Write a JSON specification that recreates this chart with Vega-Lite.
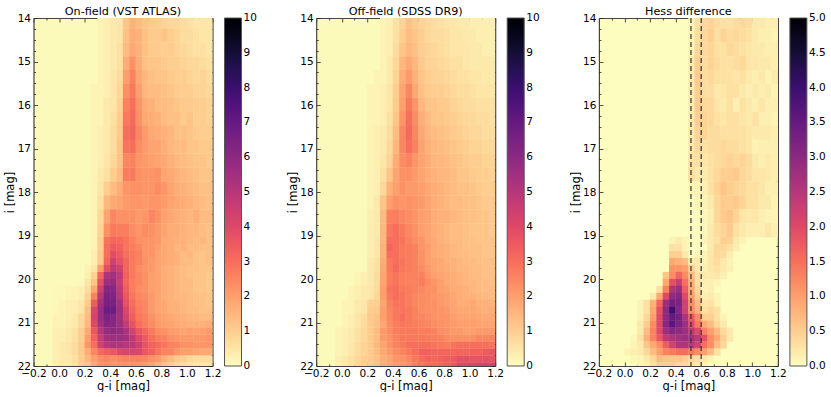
{"$schema":"https://vega.github.io/schema/vega-lite/v6.json","padding":{"left":4.5,"top":5,"right":0,"bottom":0},"background":"white","config":{"font":"DejaVu Sans","view":{"stroke":null},"title":{"fontSize":11.2,"fontWeight":"normal","offset":-4,"color":"#000"},"axis":{"grid":false,"domain":true,"domainColor":"#444","domainWidth":1.2,"zindex":1,"labelOverlap":false,"labelFlush":false,"labelBound":false,"labelFontSize":10.5,"titleFontSize":11.5,"titleFontWeight":"normal","tickColor":"#222","tickWidth":0.8,"labelColor":"#000"},"legend":{"gradientLength":348,"gradientThickness":17,"gradientStrokeColor":"#555","gradientStrokeWidth":1,"labelFontSize":10.5,"labelColor":"#000","title":null,"offset":11,"labelOffset":5}},"datasets":{"frame":[{"x":0,"y":14}],
"a1":[
{"x":0.3,"y":13.92,"v":0.2},{"x":0.35,"y":13.92,"v":0.3},{"x":0.4,"y":13.92,"v":0.4},{"x":0.45,"y":13.92,"v":0.5},{"x":0.5,"y":13.92,"v":1.2},{"x":0.55,"y":13.92,"v":1.6},{"x":0.6,"y":13.92,"v":1.4},{"x":0.65,"y":13.92,"v":1.2},{"x":0.7,"y":13.92,"v":1.1},{"x":0.75,"y":13.92,"v":1},{"x":0.8,"y":13.92,"v":0.9},{"x":0.85,"y":13.92,"v":0.8},{"x":0.9,"y":13.92,"v":0.8},{"x":0.95,"y":13.92,"v":0.7},{"x":1,"y":13.92,"v":0.6},{"x":1.05,"y":13.92,"v":0.5},{"x":1.1,"y":13.92,"v":0.5},{"x":1.15,"y":13.92,"v":0.5},
{"x":0.3,"y":14.24,"v":0.2},{"x":0.35,"y":14.24,"v":0.3},{"x":0.4,"y":14.24,"v":0.4},{"x":0.45,"y":14.24,"v":0.5},{"x":0.5,"y":14.24,"v":1.3},{"x":0.55,"y":14.24,"v":1.7},{"x":0.6,"y":14.24,"v":1.6},{"x":0.65,"y":14.24,"v":1.3},{"x":0.7,"y":14.24,"v":1.1},{"x":0.75,"y":14.24,"v":1.1},{"x":0.8,"y":14.24,"v":1.2},{"x":0.85,"y":14.24,"v":1},{"x":0.9,"y":14.24,"v":0.9},{"x":0.95,"y":14.24,"v":0.7},{"x":1,"y":14.24,"v":0.7},{"x":1.05,"y":14.24,"v":0.6},{"x":1.1,"y":14.24,"v":0.5},{"x":1.15,"y":14.24,"v":0.5},
{"x":0.3,"y":14.56,"v":0.2},{"x":0.35,"y":14.56,"v":0.3},{"x":0.4,"y":14.56,"v":0.4},{"x":0.45,"y":14.56,"v":0.6},{"x":0.5,"y":14.56,"v":1.4},{"x":0.55,"y":14.56,"v":1.8},{"x":0.6,"y":14.56,"v":1.6},{"x":0.65,"y":14.56,"v":1.3},{"x":0.7,"y":14.56,"v":1.1},{"x":0.75,"y":14.56,"v":1.1},{"x":0.8,"y":14.56,"v":1},{"x":0.85,"y":14.56,"v":1.1},{"x":0.9,"y":14.56,"v":0.9},{"x":0.95,"y":14.56,"v":0.8},{"x":1,"y":14.56,"v":0.7},{"x":1.05,"y":14.56,"v":0.6},{"x":1.1,"y":14.56,"v":0.6},{"x":1.15,"y":14.56,"v":0.5},
{"x":0.3,"y":14.88,"v":0.2},{"x":0.35,"y":14.88,"v":0.3},{"x":0.4,"y":14.88,"v":0.4},{"x":0.45,"y":14.88,"v":0.6},{"x":0.5,"y":14.88,"v":1.7},{"x":0.55,"y":14.88,"v":2.3},{"x":0.6,"y":14.88,"v":1.7},{"x":0.65,"y":14.88,"v":1.3},{"x":0.7,"y":14.88,"v":1.2},{"x":0.75,"y":14.88,"v":1.2},{"x":0.8,"y":14.88,"v":1.1},{"x":0.85,"y":14.88,"v":1},{"x":0.9,"y":14.88,"v":1},{"x":0.95,"y":14.88,"v":0.9},{"x":1,"y":14.88,"v":0.8},{"x":1.05,"y":14.88,"v":0.8},{"x":1.1,"y":14.88,"v":0.7},{"x":1.15,"y":14.88,"v":0.6},
{"x":0.3,"y":15.2,"v":0.2},{"x":0.35,"y":15.2,"v":0.3},{"x":0.4,"y":15.2,"v":0.5},{"x":0.45,"y":15.2,"v":0.7},{"x":0.5,"y":15.2,"v":2},{"x":0.55,"y":15.2,"v":2.6},{"x":0.6,"y":15.2,"v":1.8},{"x":0.65,"y":15.2,"v":1.5},{"x":0.7,"y":15.2,"v":1.3},{"x":0.75,"y":15.2,"v":1.2},{"x":0.8,"y":15.2,"v":1.2},{"x":0.85,"y":15.2,"v":1.1},{"x":0.9,"y":15.2,"v":1},{"x":0.95,"y":15.2,"v":1},{"x":1,"y":15.2,"v":0.9},{"x":1.05,"y":15.2,"v":0.8},{"x":1.1,"y":15.2,"v":0.9},{"x":1.15,"y":15.2,"v":0.7},
{"x":0.25,"y":15.52,"v":0.2},{"x":0.3,"y":15.52,"v":0.2},{"x":0.35,"y":15.52,"v":0.3},{"x":0.4,"y":15.52,"v":0.5},{"x":0.45,"y":15.52,"v":0.8},{"x":0.5,"y":15.52,"v":2.3},{"x":0.55,"y":15.52,"v":2.8},{"x":0.6,"y":15.52,"v":2},{"x":0.65,"y":15.52,"v":1.5},{"x":0.7,"y":15.52,"v":1.4},{"x":0.75,"y":15.52,"v":1.4},{"x":0.8,"y":15.52,"v":1.3},{"x":0.85,"y":15.52,"v":1.2},{"x":0.9,"y":15.52,"v":1.1},{"x":0.95,"y":15.52,"v":1},{"x":1,"y":15.52,"v":1},{"x":1.05,"y":15.52,"v":0.9},{"x":1.1,"y":15.52,"v":0.9},{"x":1.15,"y":15.52,"v":0.8},
{"x":0.25,"y":15.84,"v":0.2},{"x":0.3,"y":15.84,"v":0.2},{"x":0.35,"y":15.84,"v":0.4},{"x":0.4,"y":15.84,"v":0.5},{"x":0.45,"y":15.84,"v":0.9},{"x":0.5,"y":15.84,"v":2.6},{"x":0.55,"y":15.84,"v":3},{"x":0.6,"y":15.84,"v":2.2},{"x":0.65,"y":15.84,"v":1.7},{"x":0.7,"y":15.84,"v":1.6},{"x":0.75,"y":15.84,"v":1.4},{"x":0.8,"y":15.84,"v":1.4},{"x":0.85,"y":15.84,"v":1.3},{"x":0.9,"y":15.84,"v":1.2},{"x":0.95,"y":15.84,"v":1.1},{"x":1,"y":15.84,"v":1.1},{"x":1.05,"y":15.84,"v":1},{"x":1.1,"y":15.84,"v":1},{"x":1.15,"y":15.84,"v":0.9},
{"x":0.25,"y":16.16,"v":0.2},{"x":0.3,"y":16.16,"v":0.2},{"x":0.35,"y":16.16,"v":0.4},{"x":0.4,"y":16.16,"v":0.6},{"x":0.45,"y":16.16,"v":1},{"x":0.5,"y":16.16,"v":2.8},{"x":0.55,"y":16.16,"v":3.1},{"x":0.6,"y":16.16,"v":2.3},{"x":0.65,"y":16.16,"v":1.8},{"x":0.7,"y":16.16,"v":1.7},{"x":0.75,"y":16.16,"v":1.6},{"x":0.8,"y":16.16,"v":1.4},{"x":0.85,"y":16.16,"v":1.3},{"x":0.9,"y":16.16,"v":1.3},{"x":0.95,"y":16.16,"v":1.1},{"x":1,"y":16.16,"v":1.2},{"x":1.05,"y":16.16,"v":1},{"x":1.1,"y":16.16,"v":1},{"x":1.15,"y":16.16,"v":0.9},
{"x":0.25,"y":16.48,"v":0.2},{"x":0.3,"y":16.48,"v":0.3},{"x":0.35,"y":16.48,"v":0.4},{"x":0.4,"y":16.48,"v":0.7},{"x":0.45,"y":16.48,"v":1.1},{"x":0.5,"y":16.48,"v":3},{"x":0.55,"y":16.48,"v":3.2},{"x":0.6,"y":16.48,"v":2.5},{"x":0.65,"y":16.48,"v":2.1},{"x":0.7,"y":16.48,"v":1.8},{"x":0.75,"y":16.48,"v":1.7},{"x":0.8,"y":16.48,"v":1.6},{"x":0.85,"y":16.48,"v":1.5},{"x":0.9,"y":16.48,"v":1.3},{"x":0.95,"y":16.48,"v":1.3},{"x":1,"y":16.48,"v":1.2},{"x":1.05,"y":16.48,"v":1.1},{"x":1.1,"y":16.48,"v":1},{"x":1.15,"y":16.48,"v":1},
{"x":0.25,"y":16.8,"v":0.2},{"x":0.3,"y":16.8,"v":0.3},{"x":0.35,"y":16.8,"v":0.4},{"x":0.4,"y":16.8,"v":0.7},{"x":0.45,"y":16.8,"v":1.2},{"x":0.5,"y":16.8,"v":2.9},{"x":0.55,"y":16.8,"v":3},{"x":0.6,"y":16.8,"v":2.4},{"x":0.65,"y":16.8,"v":2.1},{"x":0.7,"y":16.8,"v":1.9},{"x":0.75,"y":16.8,"v":1.9},{"x":0.8,"y":16.8,"v":1.7},{"x":0.85,"y":16.8,"v":1.5},{"x":0.9,"y":16.8,"v":1.4},{"x":0.95,"y":16.8,"v":1.4},{"x":1,"y":16.8,"v":1.2},{"x":1.05,"y":16.8,"v":1.2},{"x":1.1,"y":16.8,"v":1.1},{"x":1.15,"y":16.8,"v":1.1},
{"x":0.25,"y":17.12,"v":0.2},{"x":0.3,"y":17.12,"v":0.3},{"x":0.35,"y":17.12,"v":0.5},{"x":0.4,"y":17.12,"v":0.8},{"x":0.45,"y":17.12,"v":1.2},{"x":0.5,"y":17.12,"v":2.5},{"x":0.55,"y":17.12,"v":2.6},{"x":0.6,"y":17.12,"v":2.2},{"x":0.65,"y":17.12,"v":2.1},{"x":0.7,"y":17.12,"v":2},{"x":0.75,"y":17.12,"v":1.9},{"x":0.8,"y":17.12,"v":1.8},{"x":0.85,"y":17.12,"v":1.6},{"x":0.9,"y":17.12,"v":1.5},{"x":0.95,"y":17.12,"v":1.4},{"x":1,"y":17.12,"v":1.3},{"x":1.05,"y":17.12,"v":1.2},{"x":1.1,"y":17.12,"v":1.2},{"x":1.15,"y":17.12,"v":1.1},
{"x":0.25,"y":17.44,"v":0.2},{"x":0.3,"y":17.44,"v":0.4},{"x":0.35,"y":17.44,"v":0.6},{"x":0.4,"y":17.44,"v":1},{"x":0.45,"y":17.44,"v":1.4},{"x":0.5,"y":17.44,"v":2.7},{"x":0.55,"y":17.44,"v":2.8},{"x":0.6,"y":17.44,"v":2.3},{"x":0.65,"y":17.44,"v":2.2},{"x":0.7,"y":17.44,"v":2.2},{"x":0.75,"y":17.44,"v":2.3},{"x":0.8,"y":17.44,"v":1.9},{"x":0.85,"y":17.44,"v":1.8},{"x":0.9,"y":17.44,"v":1.6},{"x":0.95,"y":17.44,"v":1.5},{"x":1,"y":17.44,"v":1.4},{"x":1.05,"y":17.44,"v":1.3},{"x":1.1,"y":17.44,"v":1.2},{"x":1.15,"y":17.44,"v":1.2},
{"x":0.25,"y":17.76,"v":0.2},{"x":0.3,"y":17.76,"v":0.5},{"x":0.35,"y":17.76,"v":1},{"x":0.4,"y":17.76,"v":1.4},{"x":0.45,"y":17.76,"v":1.7},{"x":0.5,"y":17.76,"v":2.2},{"x":0.55,"y":17.76,"v":2.3},{"x":0.6,"y":17.76,"v":2.3},{"x":0.65,"y":17.76,"v":2.2},{"x":0.7,"y":17.76,"v":2.2},{"x":0.75,"y":17.76,"v":2.4},{"x":0.8,"y":17.76,"v":2.2},{"x":0.85,"y":17.76,"v":1.9},{"x":0.9,"y":17.76,"v":1.7},{"x":0.95,"y":17.76,"v":1.6},{"x":1,"y":17.76,"v":1.5},{"x":1.05,"y":17.76,"v":1.4},{"x":1.1,"y":17.76,"v":1.3},{"x":1.15,"y":17.76,"v":1.3},
{"x":0.25,"y":18.08,"v":0.2},{"x":0.3,"y":18.08,"v":0.6},{"x":0.35,"y":18.08,"v":1.5},{"x":0.4,"y":18.08,"v":1.8},{"x":0.45,"y":18.08,"v":1.9},{"x":0.5,"y":18.08,"v":2.1},{"x":0.55,"y":18.08,"v":2.2},{"x":0.6,"y":18.08,"v":2.2},{"x":0.65,"y":18.08,"v":2.1},{"x":0.7,"y":18.08,"v":2.2},{"x":0.75,"y":18.08,"v":2.2},{"x":0.8,"y":18.08,"v":2.1},{"x":0.85,"y":18.08,"v":1.9},{"x":0.9,"y":18.08,"v":1.8},{"x":0.95,"y":18.08,"v":1.7},{"x":1,"y":18.08,"v":1.6},{"x":1.05,"y":18.08,"v":1.5},{"x":1.1,"y":18.08,"v":1.4},{"x":1.15,"y":18.08,"v":1.3},
{"x":0.25,"y":18.4,"v":0.2},{"x":0.3,"y":18.4,"v":0.8},{"x":0.35,"y":18.4,"v":1.9},{"x":0.4,"y":18.4,"v":2.5},{"x":0.45,"y":18.4,"v":2.3},{"x":0.5,"y":18.4,"v":2.3},{"x":0.55,"y":18.4,"v":2.3},{"x":0.6,"y":18.4,"v":2.1},{"x":0.65,"y":18.4,"v":2.2},{"x":0.7,"y":18.4,"v":2.5},{"x":0.75,"y":18.4,"v":2.3},{"x":0.8,"y":18.4,"v":2},{"x":0.85,"y":18.4,"v":1.8},{"x":0.9,"y":18.4,"v":1.7},{"x":0.95,"y":18.4,"v":1.6},{"x":1,"y":18.4,"v":1.5},{"x":1.05,"y":18.4,"v":1.7},{"x":1.1,"y":18.4,"v":1.4},{"x":1.15,"y":18.4,"v":1.4},
{"x":0.25,"y":18.72,"v":0.2},{"x":0.3,"y":18.72,"v":0.9},{"x":0.35,"y":18.72,"v":2.3},{"x":0.4,"y":18.72,"v":2.8},{"x":0.45,"y":18.72,"v":2.7},{"x":0.5,"y":18.72,"v":2.7},{"x":0.55,"y":18.72,"v":2.4},{"x":0.6,"y":18.72,"v":2.2},{"x":0.65,"y":18.72,"v":2.4},{"x":0.7,"y":18.72,"v":2.3},{"x":0.75,"y":18.72,"v":2.1},{"x":0.8,"y":18.72,"v":1.9},{"x":0.85,"y":18.72,"v":1.7},{"x":0.9,"y":18.72,"v":1.7},{"x":0.95,"y":18.72,"v":1.6},{"x":1,"y":18.72,"v":1.5},{"x":1.05,"y":18.72,"v":1.5},{"x":1.1,"y":18.72,"v":1.4},{"x":1.15,"y":18.72,"v":1.3},
{"x":-0.05,"y":20.16,"v":0.1},{"x":0,"y":20.16,"v":0.1},{"x":0.05,"y":20.16,"v":0.2},{"x":0.1,"y":20.16,"v":0.2},{"x":0.15,"y":20.16,"v":0.3},
{"x":-0.05,"y":20.48,"v":0.1},{"x":0,"y":20.48,"v":0.2},{"x":0.05,"y":20.48,"v":0.3},{"x":0.1,"y":20.48,"v":0.3},{"x":0.15,"y":20.48,"v":0.5},
{"x":-0.05,"y":20.8,"v":0.2},{"x":0,"y":20.8,"v":0.2},{"x":0.05,"y":20.8,"v":0.3},{"x":0.1,"y":20.8,"v":0.4},{"x":0.15,"y":20.8,"v":0.8},
{"x":-0.05,"y":21.12,"v":0.3},{"x":0,"y":21.12,"v":0.3},{"x":0.05,"y":21.12,"v":0.4},{"x":0.1,"y":21.12,"v":0.6},{"x":0.15,"y":21.12,"v":1},
{"x":-0.05,"y":21.44,"v":0.3},{"x":0,"y":21.44,"v":0.4},{"x":0.05,"y":21.44,"v":0.5},{"x":0.1,"y":21.44,"v":0.7},{"x":0.15,"y":21.44,"v":1.1},
{"x":-0.05,"y":21.76,"v":0.3},{"x":0,"y":21.76,"v":0.4},{"x":0.05,"y":21.76,"v":0.4},{"x":0.1,"y":21.76,"v":0.6},{"x":0.15,"y":21.76,"v":1}
],
"a2":[
{"x":0.25,"y":19.04,"v":0.2},{"x":0.3,"y":19.04,"v":1},{"x":0.35,"y":19.04,"v":2.9},{"x":0.4,"y":19.04,"v":3.2},{"x":0.45,"y":19.04,"v":3.1},{"x":0.5,"y":19.04,"v":2.9},{"x":0.55,"y":19.04,"v":2.6},{"x":0.6,"y":19.04,"v":2.3},{"x":0.65,"y":19.04,"v":2.2},{"x":0.7,"y":19.04,"v":2.2},{"x":0.75,"y":19.04,"v":2.1},{"x":0.8,"y":19.04,"v":1.8},{"x":0.85,"y":19.04,"v":1.7},{"x":0.9,"y":19.04,"v":1.6},{"x":0.95,"y":19.04,"v":1.6},{"x":1,"y":19.04,"v":1.5},{"x":1.05,"y":19.04,"v":1.4},{"x":1.1,"y":19.04,"v":1.5},{"x":1.15,"y":19.04,"v":1.3},
{"x":0.25,"y":19.2,"v":0.2},{"x":0.3,"y":19.2,"v":1},{"x":0.35,"y":19.2,"v":3},{"x":0.4,"y":19.2,"v":3.5},{"x":0.45,"y":19.2,"v":3.3},{"x":0.5,"y":19.2,"v":2.9},{"x":0.55,"y":19.2,"v":2.7},{"x":0.6,"y":19.2,"v":2.5},{"x":0.65,"y":19.2,"v":2.2},{"x":0.7,"y":19.2,"v":2.2},{"x":0.75,"y":19.2,"v":2},{"x":0.8,"y":19.2,"v":1.8},{"x":0.85,"y":19.2,"v":1.7},{"x":0.9,"y":19.2,"v":1.5},{"x":0.95,"y":19.2,"v":1.6},{"x":1,"y":19.2,"v":1.4},{"x":1.05,"y":19.2,"v":1.4},{"x":1.1,"y":19.2,"v":1.3},{"x":1.15,"y":19.2,"v":1.3},
{"x":0.25,"y":19.36,"v":0.3},{"x":0.3,"y":19.36,"v":1.1},{"x":0.35,"y":19.36,"v":3},{"x":0.4,"y":19.36,"v":3.9},{"x":0.45,"y":19.36,"v":3.5},{"x":0.5,"y":19.36,"v":3},{"x":0.55,"y":19.36,"v":2.8},{"x":0.6,"y":19.36,"v":2.6},{"x":0.65,"y":19.36,"v":2.2},{"x":0.7,"y":19.36,"v":2.2},{"x":0.75,"y":19.36,"v":1.9},{"x":0.8,"y":19.36,"v":1.8},{"x":0.85,"y":19.36,"v":1.7},{"x":0.9,"y":19.36,"v":1.6},{"x":0.95,"y":19.36,"v":1.4},{"x":1,"y":19.36,"v":1.5},{"x":1.05,"y":19.36,"v":1.3},{"x":1.1,"y":19.36,"v":1.2},{"x":1.15,"y":19.36,"v":1.3},
{"x":0.25,"y":19.52,"v":0.3},{"x":0.3,"y":19.52,"v":1.1},{"x":0.35,"y":19.52,"v":3.2},{"x":0.4,"y":19.52,"v":4.4},{"x":0.45,"y":19.52,"v":3.8},{"x":0.5,"y":19.52,"v":3.2},{"x":0.55,"y":19.52,"v":2.8},{"x":0.6,"y":19.52,"v":2.6},{"x":0.65,"y":19.52,"v":2.3},{"x":0.7,"y":19.52,"v":2.1},{"x":0.75,"y":19.52,"v":1.9},{"x":0.8,"y":19.52,"v":1.8},{"x":0.85,"y":19.52,"v":1.7},{"x":0.9,"y":19.52,"v":1.6},{"x":0.95,"y":19.52,"v":1.4},{"x":1,"y":19.52,"v":1.4},{"x":1.05,"y":19.52,"v":1.3},{"x":1.1,"y":19.52,"v":1.2},{"x":1.15,"y":19.52,"v":1.3},
{"x":0.2,"y":19.68,"v":0.2},{"x":0.25,"y":19.68,"v":0.5},{"x":0.3,"y":19.68,"v":2},{"x":0.35,"y":19.68,"v":3.8},{"x":0.4,"y":19.68,"v":4.8},{"x":0.45,"y":19.68,"v":4.4},{"x":0.5,"y":19.68,"v":3.2},{"x":0.55,"y":19.68,"v":2.8},{"x":0.6,"y":19.68,"v":2.4},{"x":0.65,"y":19.68,"v":2.2},{"x":0.7,"y":19.68,"v":2.1},{"x":0.75,"y":19.68,"v":1.9},{"x":0.8,"y":19.68,"v":1.7},{"x":0.85,"y":19.68,"v":1.6},{"x":0.9,"y":19.68,"v":1.5},{"x":0.95,"y":19.68,"v":1.4},{"x":1,"y":19.68,"v":1.3},{"x":1.05,"y":19.68,"v":1.3},{"x":1.1,"y":19.68,"v":1.2},{"x":1.15,"y":19.68,"v":1.2},
{"x":0.2,"y":19.84,"v":0.3},{"x":0.25,"y":19.84,"v":0.9},{"x":0.3,"y":19.84,"v":3.2},{"x":0.35,"y":19.84,"v":5.2},{"x":0.4,"y":19.84,"v":5.5},{"x":0.45,"y":19.84,"v":4.8},{"x":0.5,"y":19.84,"v":3.3},{"x":0.55,"y":19.84,"v":2.8},{"x":0.6,"y":19.84,"v":2.5},{"x":0.65,"y":19.84,"v":2.3},{"x":0.7,"y":19.84,"v":2},{"x":0.75,"y":19.84,"v":1.9},{"x":0.8,"y":19.84,"v":1.7},{"x":0.85,"y":19.84,"v":1.6},{"x":0.9,"y":19.84,"v":1.5},{"x":0.95,"y":19.84,"v":1.4},{"x":1,"y":19.84,"v":1.3},{"x":1.05,"y":19.84,"v":1.2},{"x":1.1,"y":19.84,"v":1.2},{"x":1.15,"y":19.84,"v":1.1},
{"x":0.2,"y":20,"v":0.5},{"x":0.25,"y":20,"v":1.2},{"x":0.3,"y":20,"v":3.8},{"x":0.35,"y":20,"v":5.6},{"x":0.4,"y":20,"v":5.8},{"x":0.45,"y":20,"v":4.6},{"x":0.5,"y":20,"v":3.2},{"x":0.55,"y":20,"v":2.7},{"x":0.6,"y":20,"v":2.5},{"x":0.65,"y":20,"v":2.3},{"x":0.7,"y":20,"v":2},{"x":0.75,"y":20,"v":1.9},{"x":0.8,"y":20,"v":1.7},{"x":0.85,"y":20,"v":1.6},{"x":0.9,"y":20,"v":1.5},{"x":0.95,"y":20,"v":1.4},{"x":1,"y":20,"v":1.4},{"x":1.05,"y":20,"v":1.2},{"x":1.1,"y":20,"v":1.2},{"x":1.15,"y":20,"v":1.1},
{"x":0.2,"y":20.16,"v":0.7},{"x":0.25,"y":20.16,"v":1.8},{"x":0.3,"y":20.16,"v":4.4},{"x":0.35,"y":20.16,"v":6.2},{"x":0.4,"y":20.16,"v":6.2},{"x":0.45,"y":20.16,"v":4.8},{"x":0.5,"y":20.16,"v":3.4},{"x":0.55,"y":20.16,"v":2.7},{"x":0.6,"y":20.16,"v":2.4},{"x":0.65,"y":20.16,"v":2.3},{"x":0.7,"y":20.16,"v":2},{"x":0.75,"y":20.16,"v":1.9},{"x":0.8,"y":20.16,"v":1.7},{"x":0.85,"y":20.16,"v":1.6},{"x":0.9,"y":20.16,"v":1.5},{"x":0.95,"y":20.16,"v":1.4},{"x":1,"y":20.16,"v":1.4},{"x":1.05,"y":20.16,"v":1.2},{"x":1.1,"y":20.16,"v":1.2},{"x":1.15,"y":20.16,"v":1.1},
{"x":0.2,"y":20.32,"v":0.9},{"x":0.25,"y":20.32,"v":2.6},{"x":0.3,"y":20.32,"v":5},{"x":0.35,"y":20.32,"v":6.4},{"x":0.4,"y":20.32,"v":6.3},{"x":0.45,"y":20.32,"v":5},{"x":0.5,"y":20.32,"v":3.6},{"x":0.55,"y":20.32,"v":2.9},{"x":0.6,"y":20.32,"v":2.5},{"x":0.65,"y":20.32,"v":2.4},{"x":0.7,"y":20.32,"v":2.1},{"x":0.75,"y":20.32,"v":1.9},{"x":0.8,"y":20.32,"v":1.7},{"x":0.85,"y":20.32,"v":1.6},{"x":0.9,"y":20.32,"v":1.5},{"x":0.95,"y":20.32,"v":1.5},{"x":1,"y":20.32,"v":1.4},{"x":1.05,"y":20.32,"v":1.3},{"x":1.1,"y":20.32,"v":1.3},{"x":1.15,"y":20.32,"v":1.2},
{"x":0.2,"y":20.48,"v":1.1},{"x":0.25,"y":20.48,"v":3.4},{"x":0.3,"y":20.48,"v":5.4},{"x":0.35,"y":20.48,"v":6.5},{"x":0.4,"y":20.48,"v":6.5},{"x":0.45,"y":20.48,"v":5.4},{"x":0.5,"y":20.48,"v":3.8},{"x":0.55,"y":20.48,"v":3},{"x":0.6,"y":20.48,"v":2.6},{"x":0.65,"y":20.48,"v":2.5},{"x":0.7,"y":20.48,"v":2.1},{"x":0.75,"y":20.48,"v":1.9},{"x":0.8,"y":20.48,"v":1.8},{"x":0.85,"y":20.48,"v":1.6},{"x":0.9,"y":20.48,"v":1.6},{"x":0.95,"y":20.48,"v":1.5},{"x":1,"y":20.48,"v":1.4},{"x":1.05,"y":20.48,"v":1.3},{"x":1.1,"y":20.48,"v":1.3},{"x":1.15,"y":20.48,"v":1.2},
{"x":0.2,"y":20.64,"v":1.3},{"x":0.25,"y":20.64,"v":4.1},{"x":0.3,"y":20.64,"v":5.7},{"x":0.35,"y":20.64,"v":6.8},{"x":0.4,"y":20.64,"v":6.8},{"x":0.45,"y":20.64,"v":5.6},{"x":0.5,"y":20.64,"v":4.1},{"x":0.55,"y":20.64,"v":3.2},{"x":0.6,"y":20.64,"v":2.7},{"x":0.65,"y":20.64,"v":2.5},{"x":0.7,"y":20.64,"v":2.1},{"x":0.75,"y":20.64,"v":1.9},{"x":0.8,"y":20.64,"v":1.8},{"x":0.85,"y":20.64,"v":1.6},{"x":0.9,"y":20.64,"v":1.6},{"x":0.95,"y":20.64,"v":1.5},{"x":1,"y":20.64,"v":1.4},{"x":1.05,"y":20.64,"v":1.4},{"x":1.1,"y":20.64,"v":1.3},{"x":1.15,"y":20.64,"v":1.3},
{"x":0.2,"y":20.8,"v":1.4},{"x":0.25,"y":20.8,"v":4.2},{"x":0.3,"y":20.8,"v":5.7},{"x":0.35,"y":20.8,"v":6.4},{"x":0.4,"y":20.8,"v":6.2},{"x":0.45,"y":20.8,"v":5.5},{"x":0.5,"y":20.8,"v":4.3},{"x":0.55,"y":20.8,"v":3.4},{"x":0.6,"y":20.8,"v":2.8},{"x":0.65,"y":20.8,"v":2.6},{"x":0.7,"y":20.8,"v":2.3},{"x":0.75,"y":20.8,"v":2},{"x":0.8,"y":20.8,"v":1.9},{"x":0.85,"y":20.8,"v":1.8},{"x":0.9,"y":20.8,"v":1.7},{"x":0.95,"y":20.8,"v":1.6},{"x":1,"y":20.8,"v":1.5},{"x":1.05,"y":20.8,"v":1.5},{"x":1.1,"y":20.8,"v":1.4},{"x":1.15,"y":20.8,"v":1.4},
{"x":0.2,"y":20.96,"v":1.5},{"x":0.25,"y":20.96,"v":4},{"x":0.3,"y":20.96,"v":5.5},{"x":0.35,"y":20.96,"v":6.2},{"x":0.4,"y":20.96,"v":6.2},{"x":0.45,"y":20.96,"v":5.6},{"x":0.5,"y":20.96,"v":4.7},{"x":0.55,"y":20.96,"v":3.7},{"x":0.6,"y":20.96,"v":3},{"x":0.65,"y":20.96,"v":2.7},{"x":0.7,"y":20.96,"v":2.4},{"x":0.75,"y":20.96,"v":2.1},{"x":0.8,"y":20.96,"v":2},{"x":0.85,"y":20.96,"v":1.9},{"x":0.9,"y":20.96,"v":1.8},{"x":0.95,"y":20.96,"v":1.7},{"x":1,"y":20.96,"v":1.6},{"x":1.05,"y":20.96,"v":1.6},{"x":1.1,"y":20.96,"v":1.6},{"x":1.15,"y":20.96,"v":1.7},
{"x":0.2,"y":21.12,"v":1.8},{"x":0.25,"y":21.12,"v":3.6},{"x":0.3,"y":21.12,"v":5},{"x":0.35,"y":21.12,"v":5.8},{"x":0.4,"y":21.12,"v":6},{"x":0.45,"y":21.12,"v":5.8},{"x":0.5,"y":21.12,"v":5.3},{"x":0.55,"y":21.12,"v":4.4},{"x":0.6,"y":21.12,"v":3.6},{"x":0.65,"y":21.12,"v":3.2},{"x":0.7,"y":21.12,"v":2.8},{"x":0.75,"y":21.12,"v":2.4},{"x":0.8,"y":21.12,"v":2.3},{"x":0.85,"y":21.12,"v":2.1},{"x":0.9,"y":21.12,"v":2},{"x":0.95,"y":21.12,"v":1.9},{"x":1,"y":21.12,"v":2},{"x":1.05,"y":21.12,"v":1.9},{"x":1.1,"y":21.12,"v":2},{"x":1.15,"y":21.12,"v":2.1},
{"x":0.2,"y":21.28,"v":2},{"x":0.25,"y":21.28,"v":3.3},{"x":0.3,"y":21.28,"v":4.6},{"x":0.35,"y":21.28,"v":5.4},{"x":0.4,"y":21.28,"v":5.6},{"x":0.45,"y":21.28,"v":5.6},{"x":0.5,"y":21.28,"v":5.4},{"x":0.55,"y":21.28,"v":4.8},{"x":0.6,"y":21.28,"v":4},{"x":0.65,"y":21.28,"v":3.5},{"x":0.7,"y":21.28,"v":3},{"x":0.75,"y":21.28,"v":2.7},{"x":0.8,"y":21.28,"v":2.6},{"x":0.85,"y":21.28,"v":2.3},{"x":0.9,"y":21.28,"v":2.2},{"x":0.95,"y":21.28,"v":2.1},{"x":1,"y":21.28,"v":2.1},{"x":1.05,"y":21.28,"v":2.1},{"x":1.1,"y":21.28,"v":2.1},{"x":1.15,"y":21.28,"v":2.2},
{"x":0.2,"y":21.44,"v":2.2},{"x":0.25,"y":21.44,"v":3},{"x":0.3,"y":21.44,"v":4.4},{"x":0.35,"y":21.44,"v":5},{"x":0.4,"y":21.44,"v":5.2},{"x":0.45,"y":21.44,"v":5.2},{"x":0.5,"y":21.44,"v":5},{"x":0.55,"y":21.44,"v":4.9},{"x":0.6,"y":21.44,"v":4.4},{"x":0.65,"y":21.44,"v":3.7},{"x":0.7,"y":21.44,"v":3.3},{"x":0.75,"y":21.44,"v":3.1},{"x":0.8,"y":21.44,"v":2.9},{"x":0.85,"y":21.44,"v":2.6},{"x":0.9,"y":21.44,"v":2.5},{"x":0.95,"y":21.44,"v":2.3},{"x":1,"y":21.44,"v":2.3},{"x":1.05,"y":21.44,"v":2.2},{"x":1.1,"y":21.44,"v":2.2},{"x":1.15,"y":21.44,"v":2.2},
{"x":0.2,"y":21.6,"v":1.7},{"x":0.25,"y":21.6,"v":2.5},{"x":0.3,"y":21.6,"v":3.1},{"x":0.35,"y":21.6,"v":3.4},{"x":0.4,"y":21.6,"v":3.6},{"x":0.45,"y":21.6,"v":4},{"x":0.5,"y":21.6,"v":4.2},{"x":0.55,"y":21.6,"v":4.2},{"x":0.6,"y":21.6,"v":4.1},{"x":0.65,"y":21.6,"v":3.6},{"x":0.7,"y":21.6,"v":3.3},{"x":0.75,"y":21.6,"v":2.9},{"x":0.8,"y":21.6,"v":2.6},{"x":0.85,"y":21.6,"v":2.5},{"x":0.9,"y":21.6,"v":2.2},{"x":0.95,"y":21.6,"v":2},{"x":1,"y":21.6,"v":2},{"x":1.05,"y":21.6,"v":1.9},{"x":1.1,"y":21.6,"v":1.8},{"x":1.15,"y":21.6,"v":1.8},
{"x":0.2,"y":21.76,"v":1.5},{"x":0.25,"y":21.76,"v":2},{"x":0.3,"y":21.76,"v":2.4},{"x":0.35,"y":21.76,"v":2.5},{"x":0.4,"y":21.76,"v":2.4},{"x":0.45,"y":21.76,"v":2.5},{"x":0.5,"y":21.76,"v":2.6},{"x":0.55,"y":21.76,"v":2.6},{"x":0.6,"y":21.76,"v":2.6},{"x":0.65,"y":21.76,"v":2.5},{"x":0.7,"y":21.76,"v":2.3},{"x":0.75,"y":21.76,"v":2.1},{"x":0.8,"y":21.76,"v":1.7},{"x":0.85,"y":21.76,"v":1.4},{"x":0.9,"y":21.76,"v":1.1},{"x":0.95,"y":21.76,"v":1},{"x":1,"y":21.76,"v":0.8},{"x":1.05,"y":21.76,"v":0.7},{"x":1.1,"y":21.76,"v":0.7},{"x":1.15,"y":21.76,"v":0.7},
{"x":0.2,"y":21.92,"v":1.2},{"x":0.25,"y":21.92,"v":1.8},{"x":0.3,"y":21.92,"v":2.3},{"x":0.35,"y":21.92,"v":2.4},{"x":0.4,"y":21.92,"v":2.2},{"x":0.45,"y":21.92,"v":2.3},{"x":0.5,"y":21.92,"v":2.3},{"x":0.55,"y":21.92,"v":2.3},{"x":0.6,"y":21.92,"v":2.2},{"x":0.65,"y":21.92,"v":2.1},{"x":0.7,"y":21.92,"v":1.9},{"x":0.75,"y":21.92,"v":1.6},{"x":0.8,"y":21.92,"v":1.2},{"x":0.85,"y":21.92,"v":1},{"x":0.9,"y":21.92,"v":0.8},{"x":0.95,"y":21.92,"v":0.7},{"x":1,"y":21.92,"v":0.6},{"x":1.05,"y":21.92,"v":0.5},{"x":1.1,"y":21.92,"v":0.5},{"x":1.15,"y":21.92,"v":0.5}
],
"b1":[
{"x":0.3,"y":13.92,"v":0.2},{"x":0.35,"y":13.92,"v":0.3},{"x":0.4,"y":13.92,"v":0.6},{"x":0.45,"y":13.92,"v":0.9},{"x":0.5,"y":13.92,"v":1.3},{"x":0.55,"y":13.92,"v":1.1},{"x":0.6,"y":13.92,"v":0.9},{"x":0.65,"y":13.92,"v":0.8},{"x":0.7,"y":13.92,"v":0.7},{"x":0.75,"y":13.92,"v":0.6},{"x":0.8,"y":13.92,"v":0.5},{"x":0.85,"y":13.92,"v":0.5},{"x":0.9,"y":13.92,"v":0.4},{"x":0.95,"y":13.92,"v":0.4},{"x":1,"y":13.92,"v":0.3},{"x":1.05,"y":13.92,"v":0.3},{"x":1.1,"y":13.92,"v":0.3},{"x":1.15,"y":13.92,"v":0.3},
{"x":0.3,"y":14.24,"v":0.2},{"x":0.35,"y":14.24,"v":0.3},{"x":0.4,"y":14.24,"v":0.6},{"x":0.45,"y":14.24,"v":1},{"x":0.5,"y":14.24,"v":1.4},{"x":0.55,"y":14.24,"v":1.2},{"x":0.6,"y":14.24,"v":1},{"x":0.65,"y":14.24,"v":0.8},{"x":0.7,"y":14.24,"v":0.7},{"x":0.75,"y":14.24,"v":0.7},{"x":0.8,"y":14.24,"v":0.6},{"x":0.85,"y":14.24,"v":0.5},{"x":0.9,"y":14.24,"v":0.5},{"x":0.95,"y":14.24,"v":0.4},{"x":1,"y":14.24,"v":0.4},{"x":1.05,"y":14.24,"v":0.3},{"x":1.1,"y":14.24,"v":0.3},{"x":1.15,"y":14.24,"v":0.3},
{"x":0.3,"y":14.56,"v":0.2},{"x":0.35,"y":14.56,"v":0.3},{"x":0.4,"y":14.56,"v":0.7},{"x":0.45,"y":14.56,"v":1.2},{"x":0.5,"y":14.56,"v":1.5},{"x":0.55,"y":14.56,"v":1.3},{"x":0.6,"y":14.56,"v":1},{"x":0.65,"y":14.56,"v":0.9},{"x":0.7,"y":14.56,"v":0.8},{"x":0.75,"y":14.56,"v":0.7},{"x":0.8,"y":14.56,"v":0.6},{"x":0.85,"y":14.56,"v":0.5},{"x":0.9,"y":14.56,"v":0.5},{"x":0.95,"y":14.56,"v":0.5},{"x":1,"y":14.56,"v":0.4},{"x":1.05,"y":14.56,"v":0.4},{"x":1.1,"y":14.56,"v":0.3},{"x":1.15,"y":14.56,"v":0.3},
{"x":0.3,"y":14.88,"v":0.2},{"x":0.35,"y":14.88,"v":0.4},{"x":0.4,"y":14.88,"v":0.8},{"x":0.45,"y":14.88,"v":1.5},{"x":0.5,"y":14.88,"v":1.8},{"x":0.55,"y":14.88,"v":1.5},{"x":0.6,"y":14.88,"v":1.1},{"x":0.65,"y":14.88,"v":0.9},{"x":0.7,"y":14.88,"v":0.9},{"x":0.75,"y":14.88,"v":0.8},{"x":0.8,"y":14.88,"v":0.7},{"x":0.85,"y":14.88,"v":0.6},{"x":0.9,"y":14.88,"v":0.6},{"x":0.95,"y":14.88,"v":0.5},{"x":1,"y":14.88,"v":0.4},{"x":1.05,"y":14.88,"v":0.4},{"x":1.1,"y":14.88,"v":0.4},{"x":1.15,"y":14.88,"v":0.4},
{"x":0.25,"y":15.2,"v":0.2},{"x":0.3,"y":15.2,"v":0.2},{"x":0.35,"y":15.2,"v":0.4},{"x":0.4,"y":15.2,"v":0.9},{"x":0.45,"y":15.2,"v":1.7},{"x":0.5,"y":15.2,"v":2.1},{"x":0.55,"y":15.2,"v":1.6},{"x":0.6,"y":15.2,"v":1.2},{"x":0.65,"y":15.2,"v":1},{"x":0.7,"y":15.2,"v":0.9},{"x":0.75,"y":15.2,"v":0.9},{"x":0.8,"y":15.2,"v":0.8},{"x":0.85,"y":15.2,"v":0.7},{"x":0.9,"y":15.2,"v":0.6},{"x":0.95,"y":15.2,"v":0.6},{"x":1,"y":15.2,"v":0.5},{"x":1.05,"y":15.2,"v":0.5},{"x":1.1,"y":15.2,"v":0.4},{"x":1.15,"y":15.2,"v":0.4},
{"x":0.2,"y":15.52,"v":0.2},{"x":0.25,"y":15.52,"v":0.2},{"x":0.3,"y":15.52,"v":0.3},{"x":0.35,"y":15.52,"v":0.5},{"x":0.4,"y":15.52,"v":1},{"x":0.45,"y":15.52,"v":1.9},{"x":0.5,"y":15.52,"v":2.5},{"x":0.55,"y":15.52,"v":1.8},{"x":0.6,"y":15.52,"v":1.3},{"x":0.65,"y":15.52,"v":1.1},{"x":0.7,"y":15.52,"v":1},{"x":0.75,"y":15.52,"v":1},{"x":0.8,"y":15.52,"v":0.9},{"x":0.85,"y":15.52,"v":0.8},{"x":0.9,"y":15.52,"v":0.7},{"x":0.95,"y":15.52,"v":0.7},{"x":1,"y":15.52,"v":0.6},{"x":1.05,"y":15.52,"v":0.5},{"x":1.1,"y":15.52,"v":0.5},{"x":1.15,"y":15.52,"v":0.5},
{"x":0.2,"y":15.84,"v":0.2},{"x":0.25,"y":15.84,"v":0.2},{"x":0.3,"y":15.84,"v":0.3},{"x":0.35,"y":15.84,"v":0.5},{"x":0.4,"y":15.84,"v":1.1},{"x":0.45,"y":15.84,"v":2},{"x":0.5,"y":15.84,"v":2.8},{"x":0.55,"y":15.84,"v":2.2},{"x":0.6,"y":15.84,"v":1.5},{"x":0.65,"y":15.84,"v":1.2},{"x":0.7,"y":15.84,"v":1.2},{"x":0.75,"y":15.84,"v":1.1},{"x":0.8,"y":15.84,"v":1.1},{"x":0.85,"y":15.84,"v":0.9},{"x":0.9,"y":15.84,"v":0.8},{"x":0.95,"y":15.84,"v":0.7},{"x":1,"y":15.84,"v":0.7},{"x":1.05,"y":15.84,"v":0.6},{"x":1.1,"y":15.84,"v":0.6},{"x":1.15,"y":15.84,"v":0.6},
{"x":0.2,"y":16.16,"v":0.2},{"x":0.25,"y":16.16,"v":0.2},{"x":0.3,"y":16.16,"v":0.3},{"x":0.35,"y":16.16,"v":0.6},{"x":0.4,"y":16.16,"v":1.2},{"x":0.45,"y":16.16,"v":2.2},{"x":0.5,"y":16.16,"v":3},{"x":0.55,"y":16.16,"v":2.4},{"x":0.6,"y":16.16,"v":1.7},{"x":0.65,"y":16.16,"v":1.4},{"x":0.7,"y":16.16,"v":1.2},{"x":0.75,"y":16.16,"v":1.2},{"x":0.8,"y":16.16,"v":1.1},{"x":0.85,"y":16.16,"v":1},{"x":0.9,"y":16.16,"v":0.9},{"x":0.95,"y":16.16,"v":0.8},{"x":1,"y":16.16,"v":0.8},{"x":1.05,"y":16.16,"v":0.7},{"x":1.1,"y":16.16,"v":0.7},{"x":1.15,"y":16.16,"v":0.6},
{"x":0.2,"y":16.48,"v":0.2},{"x":0.25,"y":16.48,"v":0.3},{"x":0.3,"y":16.48,"v":0.4},{"x":0.35,"y":16.48,"v":0.7},{"x":0.4,"y":16.48,"v":1.4},{"x":0.45,"y":16.48,"v":2.5},{"x":0.5,"y":16.48,"v":3.1},{"x":0.55,"y":16.48,"v":2.5},{"x":0.6,"y":16.48,"v":1.8},{"x":0.65,"y":16.48,"v":1.5},{"x":0.7,"y":16.48,"v":1.4},{"x":0.75,"y":16.48,"v":1.3},{"x":0.8,"y":16.48,"v":1.2},{"x":0.85,"y":16.48,"v":1.1},{"x":0.9,"y":16.48,"v":1},{"x":0.95,"y":16.48,"v":0.9},{"x":1,"y":16.48,"v":0.8},{"x":1.05,"y":16.48,"v":0.8},{"x":1.1,"y":16.48,"v":0.7},{"x":1.15,"y":16.48,"v":0.7},
{"x":0.2,"y":16.8,"v":0.2},{"x":0.25,"y":16.8,"v":0.3},{"x":0.3,"y":16.8,"v":0.4},{"x":0.35,"y":16.8,"v":0.8},{"x":0.4,"y":16.8,"v":1.5},{"x":0.45,"y":16.8,"v":2.5},{"x":0.5,"y":16.8,"v":3},{"x":0.55,"y":16.8,"v":2.6},{"x":0.6,"y":16.8,"v":1.9},{"x":0.65,"y":16.8,"v":1.6},{"x":0.7,"y":16.8,"v":1.5},{"x":0.75,"y":16.8,"v":1.4},{"x":0.8,"y":16.8,"v":1.3},{"x":0.85,"y":16.8,"v":1.2},{"x":0.9,"y":16.8,"v":1.1},{"x":0.95,"y":16.8,"v":1},{"x":1,"y":16.8,"v":0.9},{"x":1.05,"y":16.8,"v":0.9},{"x":1.1,"y":16.8,"v":0.8},{"x":1.15,"y":16.8,"v":0.8},
{"x":0.2,"y":17.12,"v":0.2},{"x":0.25,"y":17.12,"v":0.3},{"x":0.3,"y":17.12,"v":0.5},{"x":0.35,"y":17.12,"v":0.9},{"x":0.4,"y":17.12,"v":1.7},{"x":0.45,"y":17.12,"v":2.4},{"x":0.5,"y":17.12,"v":2.6},{"x":0.55,"y":17.12,"v":2.2},{"x":0.6,"y":17.12,"v":1.9},{"x":0.65,"y":17.12,"v":1.7},{"x":0.7,"y":17.12,"v":1.5},{"x":0.75,"y":17.12,"v":1.5},{"x":0.8,"y":17.12,"v":1.4},{"x":0.85,"y":17.12,"v":1.3},{"x":0.9,"y":17.12,"v":1.2},{"x":0.95,"y":17.12,"v":1.1},{"x":1,"y":17.12,"v":1},{"x":1.05,"y":17.12,"v":1},{"x":1.1,"y":17.12,"v":0.9},{"x":1.15,"y":17.12,"v":0.9},
{"x":0.2,"y":17.44,"v":0.2},{"x":0.25,"y":17.44,"v":0.3},{"x":0.3,"y":17.44,"v":0.6},{"x":0.35,"y":17.44,"v":1.2},{"x":0.4,"y":17.44,"v":1.9},{"x":0.45,"y":17.44,"v":2.3},{"x":0.5,"y":17.44,"v":2.3},{"x":0.55,"y":17.44,"v":2.1},{"x":0.6,"y":17.44,"v":1.9},{"x":0.65,"y":17.44,"v":1.7},{"x":0.7,"y":17.44,"v":1.6},{"x":0.75,"y":17.44,"v":1.5},{"x":0.8,"y":17.44,"v":1.5},{"x":0.85,"y":17.44,"v":1.4},{"x":0.9,"y":17.44,"v":1.2},{"x":0.95,"y":17.44,"v":1.2},{"x":1,"y":17.44,"v":1.1},{"x":1.05,"y":17.44,"v":1},{"x":1.1,"y":17.44,"v":1},{"x":1.15,"y":17.44,"v":0.9},
{"x":0.2,"y":17.76,"v":0.2},{"x":0.25,"y":17.76,"v":0.3},{"x":0.3,"y":17.76,"v":0.8},{"x":0.35,"y":17.76,"v":1.6},{"x":0.4,"y":17.76,"v":2},{"x":0.45,"y":17.76,"v":2.3},{"x":0.5,"y":17.76,"v":2.1},{"x":0.55,"y":17.76,"v":2.1},{"x":0.6,"y":17.76,"v":2},{"x":0.65,"y":17.76,"v":1.8},{"x":0.7,"y":17.76,"v":1.7},{"x":0.75,"y":17.76,"v":1.6},{"x":0.8,"y":17.76,"v":1.5},{"x":0.85,"y":17.76,"v":1.4},{"x":0.9,"y":17.76,"v":1.3},{"x":0.95,"y":17.76,"v":1.3},{"x":1,"y":17.76,"v":1.2},{"x":1.05,"y":17.76,"v":1.1},{"x":1.1,"y":17.76,"v":1},{"x":1.15,"y":17.76,"v":1},
{"x":0.2,"y":18.08,"v":0.2},{"x":0.25,"y":18.08,"v":0.4},{"x":0.3,"y":18.08,"v":1.2},{"x":0.35,"y":18.08,"v":2},{"x":0.4,"y":18.08,"v":2.3},{"x":0.45,"y":18.08,"v":2.2},{"x":0.5,"y":18.08,"v":2.3},{"x":0.55,"y":18.08,"v":2.2},{"x":0.6,"y":18.08,"v":2.1},{"x":0.65,"y":18.08,"v":1.9},{"x":0.7,"y":18.08,"v":1.7},{"x":0.75,"y":18.08,"v":1.6},{"x":0.8,"y":18.08,"v":1.5},{"x":0.85,"y":18.08,"v":1.4},{"x":0.9,"y":18.08,"v":1.4},{"x":0.95,"y":18.08,"v":1.3},{"x":1,"y":18.08,"v":1.3},{"x":1.05,"y":18.08,"v":1.2},{"x":1.1,"y":18.08,"v":1.1},{"x":1.15,"y":18.08,"v":1.1},
{"x":0.2,"y":18.4,"v":0.3},{"x":0.25,"y":18.4,"v":0.4},{"x":0.3,"y":18.4,"v":1.4},{"x":0.35,"y":18.4,"v":2.6},{"x":0.4,"y":18.4,"v":2.7},{"x":0.45,"y":18.4,"v":2.5},{"x":0.5,"y":18.4,"v":2.4},{"x":0.55,"y":18.4,"v":2.2},{"x":0.6,"y":18.4,"v":2},{"x":0.65,"y":18.4,"v":1.9},{"x":0.7,"y":18.4,"v":1.7},{"x":0.75,"y":18.4,"v":1.6},{"x":0.8,"y":18.4,"v":1.6},{"x":0.85,"y":18.4,"v":1.5},{"x":0.9,"y":18.4,"v":1.4},{"x":0.95,"y":18.4,"v":1.3},{"x":1,"y":18.4,"v":1.3},{"x":1.05,"y":18.4,"v":1.2},{"x":1.1,"y":18.4,"v":1.2},{"x":1.15,"y":18.4,"v":1.1},
{"x":0.2,"y":18.72,"v":0.3},{"x":0.25,"y":18.72,"v":0.4},{"x":0.3,"y":18.72,"v":1.5},{"x":0.35,"y":18.72,"v":2.8},{"x":0.4,"y":18.72,"v":3},{"x":0.45,"y":18.72,"v":2.8},{"x":0.5,"y":18.72,"v":2.5},{"x":0.55,"y":18.72,"v":2.3},{"x":0.6,"y":18.72,"v":2},{"x":0.65,"y":18.72,"v":1.9},{"x":0.7,"y":18.72,"v":1.7},{"x":0.75,"y":18.72,"v":1.6},{"x":0.8,"y":18.72,"v":1.5},{"x":0.85,"y":18.72,"v":1.4},{"x":0.9,"y":18.72,"v":1.4},{"x":0.95,"y":18.72,"v":1.3},{"x":1,"y":18.72,"v":1.2},{"x":1.05,"y":18.72,"v":1.2},{"x":1.1,"y":18.72,"v":1.2},{"x":1.15,"y":18.72,"v":1.1},
{"x":0.1,"y":19.84,"v":0.2},{"x":0.15,"y":19.84,"v":0.3},
{"x":0.05,"y":20.16,"v":0.2},{"x":0.1,"y":20.16,"v":0.3},{"x":0.15,"y":20.16,"v":0.4},
{"x":0,"y":20.48,"v":0.2},{"x":0.05,"y":20.48,"v":0.2},{"x":0.1,"y":20.48,"v":0.4},{"x":0.15,"y":20.48,"v":0.5},
{"x":0,"y":20.8,"v":0.2},{"x":0.05,"y":20.8,"v":0.3},{"x":0.1,"y":20.8,"v":0.5},{"x":0.15,"y":20.8,"v":0.7},
{"x":-0.05,"y":21.12,"v":0.2},{"x":0,"y":21.12,"v":0.3},{"x":0.05,"y":21.12,"v":0.4},{"x":0.1,"y":21.12,"v":0.6},{"x":0.15,"y":21.12,"v":0.8},
{"x":-0.05,"y":21.44,"v":0.2},{"x":0,"y":21.44,"v":0.3},{"x":0.05,"y":21.44,"v":0.5},{"x":0.1,"y":21.44,"v":0.7},{"x":0.15,"y":21.44,"v":0.9},
{"x":-0.05,"y":21.76,"v":0.3},{"x":0,"y":21.76,"v":0.4},{"x":0.05,"y":21.76,"v":0.6},{"x":0.1,"y":21.76,"v":0.8},{"x":0.15,"y":21.76,"v":1}
],
"b2":[
{"x":0.2,"y":19.04,"v":0.3},{"x":0.25,"y":19.04,"v":0.5},{"x":0.3,"y":19.04,"v":1.5},{"x":0.35,"y":19.04,"v":3},{"x":0.4,"y":19.04,"v":3},{"x":0.45,"y":19.04,"v":2.9},{"x":0.5,"y":19.04,"v":2.6},{"x":0.55,"y":19.04,"v":2.4},{"x":0.6,"y":19.04,"v":2.2},{"x":0.65,"y":19.04,"v":1.9},{"x":0.7,"y":19.04,"v":1.8},{"x":0.75,"y":19.04,"v":1.6},{"x":0.8,"y":19.04,"v":1.5},{"x":0.85,"y":19.04,"v":1.4},{"x":0.9,"y":19.04,"v":1.4},{"x":0.95,"y":19.04,"v":1.3},{"x":1,"y":19.04,"v":1.3},{"x":1.05,"y":19.04,"v":1.2},{"x":1.1,"y":19.04,"v":1.2},{"x":1.15,"y":19.04,"v":1.2},
{"x":0.2,"y":19.2,"v":0.3},{"x":0.25,"y":19.2,"v":0.5},{"x":0.3,"y":19.2,"v":1.6},{"x":0.35,"y":19.2,"v":3.2},{"x":0.4,"y":19.2,"v":3},{"x":0.45,"y":19.2,"v":2.8},{"x":0.5,"y":19.2,"v":2.7},{"x":0.55,"y":19.2,"v":2.6},{"x":0.6,"y":19.2,"v":2.2},{"x":0.65,"y":19.2,"v":2},{"x":0.7,"y":19.2,"v":1.8},{"x":0.75,"y":19.2,"v":1.7},{"x":0.8,"y":19.2,"v":1.6},{"x":0.85,"y":19.2,"v":1.5},{"x":0.9,"y":19.2,"v":1.4},{"x":0.95,"y":19.2,"v":1.3},{"x":1,"y":19.2,"v":1.3},{"x":1.05,"y":19.2,"v":1.3},{"x":1.1,"y":19.2,"v":1.2},{"x":1.15,"y":19.2,"v":1.2},
{"x":0.2,"y":19.36,"v":0.3},{"x":0.25,"y":19.36,"v":0.5},{"x":0.3,"y":19.36,"v":1.6},{"x":0.35,"y":19.36,"v":3},{"x":0.4,"y":19.36,"v":3},{"x":0.45,"y":19.36,"v":2.8},{"x":0.5,"y":19.36,"v":2.7},{"x":0.55,"y":19.36,"v":2.6},{"x":0.6,"y":19.36,"v":2.3},{"x":0.65,"y":19.36,"v":2},{"x":0.7,"y":19.36,"v":1.8},{"x":0.75,"y":19.36,"v":1.7},{"x":0.8,"y":19.36,"v":1.6},{"x":0.85,"y":19.36,"v":1.5},{"x":0.9,"y":19.36,"v":1.4},{"x":0.95,"y":19.36,"v":1.4},{"x":1,"y":19.36,"v":1.3},{"x":1.05,"y":19.36,"v":1.3},{"x":1.1,"y":19.36,"v":1.2},{"x":1.15,"y":19.36,"v":1.2},
{"x":0.2,"y":19.52,"v":0.4},{"x":0.25,"y":19.52,"v":0.6},{"x":0.3,"y":19.52,"v":1.7},{"x":0.35,"y":19.52,"v":2.8},{"x":0.4,"y":19.52,"v":3},{"x":0.45,"y":19.52,"v":2.9},{"x":0.5,"y":19.52,"v":2.7},{"x":0.55,"y":19.52,"v":2.6},{"x":0.6,"y":19.52,"v":2.3},{"x":0.65,"y":19.52,"v":2},{"x":0.7,"y":19.52,"v":1.9},{"x":0.75,"y":19.52,"v":1.8},{"x":0.8,"y":19.52,"v":1.6},{"x":0.85,"y":19.52,"v":1.6},{"x":0.9,"y":19.52,"v":1.5},{"x":0.95,"y":19.52,"v":1.4},{"x":1,"y":19.52,"v":1.4},{"x":1.05,"y":19.52,"v":1.3},{"x":1.1,"y":19.52,"v":1.3},{"x":1.15,"y":19.52,"v":1.3},
{"x":0.2,"y":19.68,"v":0.4},{"x":0.25,"y":19.68,"v":0.6},{"x":0.3,"y":19.68,"v":1.8},{"x":0.35,"y":19.68,"v":2.8},{"x":0.4,"y":19.68,"v":3.1},{"x":0.45,"y":19.68,"v":2.8},{"x":0.5,"y":19.68,"v":2.7},{"x":0.55,"y":19.68,"v":2.6},{"x":0.6,"y":19.68,"v":2.4},{"x":0.65,"y":19.68,"v":2.1},{"x":0.7,"y":19.68,"v":1.9},{"x":0.75,"y":19.68,"v":1.8},{"x":0.8,"y":19.68,"v":1.7},{"x":0.85,"y":19.68,"v":1.6},{"x":0.9,"y":19.68,"v":1.5},{"x":0.95,"y":19.68,"v":1.5},{"x":1,"y":19.68,"v":1.4},{"x":1.05,"y":19.68,"v":1.4},{"x":1.1,"y":19.68,"v":1.3},{"x":1.15,"y":19.68,"v":1.3},
{"x":0.2,"y":19.84,"v":0.4},{"x":0.25,"y":19.84,"v":0.7},{"x":0.3,"y":19.84,"v":1.9},{"x":0.35,"y":19.84,"v":2.7},{"x":0.4,"y":19.84,"v":2.9},{"x":0.45,"y":19.84,"v":2.7},{"x":0.5,"y":19.84,"v":2.6},{"x":0.55,"y":19.84,"v":2.6},{"x":0.6,"y":19.84,"v":2.6},{"x":0.65,"y":19.84,"v":2.2},{"x":0.7,"y":19.84,"v":2},{"x":0.75,"y":19.84,"v":1.9},{"x":0.8,"y":19.84,"v":1.8},{"x":0.85,"y":19.84,"v":1.7},{"x":0.9,"y":19.84,"v":1.6},{"x":0.95,"y":19.84,"v":1.5},{"x":1,"y":19.84,"v":1.4},{"x":1.05,"y":19.84,"v":1.4},{"x":1.1,"y":19.84,"v":1.3},{"x":1.15,"y":19.84,"v":1.3},
{"x":0.2,"y":20,"v":0.4},{"x":0.25,"y":20,"v":0.7},{"x":0.3,"y":20,"v":1.9},{"x":0.35,"y":20,"v":2.7},{"x":0.4,"y":20,"v":2.9},{"x":0.45,"y":20,"v":2.7},{"x":0.5,"y":20,"v":2.6},{"x":0.55,"y":20,"v":2.6},{"x":0.6,"y":20,"v":2.7},{"x":0.65,"y":20,"v":2.4},{"x":0.7,"y":20,"v":2.2},{"x":0.75,"y":20,"v":2},{"x":0.8,"y":20,"v":1.8},{"x":0.85,"y":20,"v":1.7},{"x":0.9,"y":20,"v":1.6},{"x":0.95,"y":20,"v":1.5},{"x":1,"y":20,"v":1.5},{"x":1.05,"y":20,"v":1.4},{"x":1.1,"y":20,"v":1.4},{"x":1.15,"y":20,"v":1.3},
{"x":0.2,"y":20.16,"v":0.5},{"x":0.25,"y":20.16,"v":0.7},{"x":0.3,"y":20.16,"v":2},{"x":0.35,"y":20.16,"v":2.9},{"x":0.4,"y":20.16,"v":3},{"x":0.45,"y":20.16,"v":2.8},{"x":0.5,"y":20.16,"v":2.7},{"x":0.55,"y":20.16,"v":2.6},{"x":0.6,"y":20.16,"v":2.5},{"x":0.65,"y":20.16,"v":2.3},{"x":0.7,"y":20.16,"v":2.3},{"x":0.75,"y":20.16,"v":2},{"x":0.8,"y":20.16,"v":1.9},{"x":0.85,"y":20.16,"v":1.7},{"x":0.9,"y":20.16,"v":1.7},{"x":0.95,"y":20.16,"v":1.6},{"x":1,"y":20.16,"v":1.5},{"x":1.05,"y":20.16,"v":1.4},{"x":1.1,"y":20.16,"v":1.4},{"x":1.15,"y":20.16,"v":1.4},
{"x":0.2,"y":20.32,"v":0.5},{"x":0.25,"y":20.32,"v":0.8},{"x":0.3,"y":20.32,"v":2},{"x":0.35,"y":20.32,"v":2.8},{"x":0.4,"y":20.32,"v":3},{"x":0.45,"y":20.32,"v":2.9},{"x":0.5,"y":20.32,"v":2.7},{"x":0.55,"y":20.32,"v":2.5},{"x":0.6,"y":20.32,"v":2.4},{"x":0.65,"y":20.32,"v":2.3},{"x":0.7,"y":20.32,"v":2.2},{"x":0.75,"y":20.32,"v":2.1},{"x":0.8,"y":20.32,"v":2},{"x":0.85,"y":20.32,"v":1.8},{"x":0.9,"y":20.32,"v":1.7},{"x":0.95,"y":20.32,"v":1.6},{"x":1,"y":20.32,"v":1.6},{"x":1.05,"y":20.32,"v":1.5},{"x":1.1,"y":20.32,"v":1.5},{"x":1.15,"y":20.32,"v":1.4},
{"x":0.2,"y":20.48,"v":0.9},{"x":0.25,"y":20.48,"v":1},{"x":0.3,"y":20.48,"v":1.9},{"x":0.35,"y":20.48,"v":2.6},{"x":0.4,"y":20.48,"v":2.9},{"x":0.45,"y":20.48,"v":2.9},{"x":0.5,"y":20.48,"v":2.7},{"x":0.55,"y":20.48,"v":2.5},{"x":0.6,"y":20.48,"v":2.4},{"x":0.65,"y":20.48,"v":2.3},{"x":0.7,"y":20.48,"v":2.3},{"x":0.75,"y":20.48,"v":2.1},{"x":0.8,"y":20.48,"v":2},{"x":0.85,"y":20.48,"v":1.9},{"x":0.9,"y":20.48,"v":1.7},{"x":0.95,"y":20.48,"v":1.7},{"x":1,"y":20.48,"v":1.8},{"x":1.05,"y":20.48,"v":1.6},{"x":1.1,"y":20.48,"v":1.6},{"x":1.15,"y":20.48,"v":1.6},
{"x":0.2,"y":20.64,"v":1},{"x":0.25,"y":20.64,"v":1.1},{"x":0.3,"y":20.64,"v":2},{"x":0.35,"y":20.64,"v":2.5},{"x":0.4,"y":20.64,"v":2.8},{"x":0.45,"y":20.64,"v":2.9},{"x":0.5,"y":20.64,"v":2.8},{"x":0.55,"y":20.64,"v":2.6},{"x":0.6,"y":20.64,"v":2.4},{"x":0.65,"y":20.64,"v":2.3},{"x":0.7,"y":20.64,"v":2.3},{"x":0.75,"y":20.64,"v":2.2},{"x":0.8,"y":20.64,"v":2.1},{"x":0.85,"y":20.64,"v":1.9},{"x":0.9,"y":20.64,"v":1.8},{"x":0.95,"y":20.64,"v":1.8},{"x":1,"y":20.64,"v":1.8},{"x":1.05,"y":20.64,"v":1.7},{"x":1.1,"y":20.64,"v":1.6},{"x":1.15,"y":20.64,"v":1.7},
{"x":0.2,"y":20.8,"v":1.1},{"x":0.25,"y":20.8,"v":1.2},{"x":0.3,"y":20.8,"v":2},{"x":0.35,"y":20.8,"v":2.5},{"x":0.4,"y":20.8,"v":2.8},{"x":0.45,"y":20.8,"v":3},{"x":0.5,"y":20.8,"v":2.8},{"x":0.55,"y":20.8,"v":2.6},{"x":0.6,"y":20.8,"v":2.5},{"x":0.65,"y":20.8,"v":2.4},{"x":0.7,"y":20.8,"v":2.3},{"x":0.75,"y":20.8,"v":2.2},{"x":0.8,"y":20.8,"v":2.2},{"x":0.85,"y":20.8,"v":2},{"x":0.9,"y":20.8,"v":1.9},{"x":0.95,"y":20.8,"v":1.9},{"x":1,"y":20.8,"v":1.9},{"x":1.05,"y":20.8,"v":1.8},{"x":1.1,"y":20.8,"v":1.8},{"x":1.15,"y":20.8,"v":1.8},
{"x":0.2,"y":20.96,"v":1.1},{"x":0.25,"y":20.96,"v":1.3},{"x":0.3,"y":20.96,"v":1.8},{"x":0.35,"y":20.96,"v":2.4},{"x":0.4,"y":20.96,"v":2.7},{"x":0.45,"y":20.96,"v":2.9},{"x":0.5,"y":20.96,"v":2.8},{"x":0.55,"y":20.96,"v":2.7},{"x":0.6,"y":20.96,"v":2.6},{"x":0.65,"y":20.96,"v":2.5},{"x":0.7,"y":20.96,"v":2.4},{"x":0.75,"y":20.96,"v":2.3},{"x":0.8,"y":20.96,"v":2.2},{"x":0.85,"y":20.96,"v":2.1},{"x":0.9,"y":20.96,"v":2},{"x":0.95,"y":20.96,"v":2},{"x":1,"y":20.96,"v":2},{"x":1.05,"y":20.96,"v":1.9},{"x":1.1,"y":20.96,"v":1.9},{"x":1.15,"y":20.96,"v":1.9},
{"x":0.2,"y":21.12,"v":1.1},{"x":0.25,"y":21.12,"v":1.4},{"x":0.3,"y":21.12,"v":2.1},{"x":0.35,"y":21.12,"v":2.4},{"x":0.4,"y":21.12,"v":2.7},{"x":0.45,"y":21.12,"v":2.8},{"x":0.5,"y":21.12,"v":2.8},{"x":0.55,"y":21.12,"v":2.8},{"x":0.6,"y":21.12,"v":2.7},{"x":0.65,"y":21.12,"v":2.7},{"x":0.7,"y":21.12,"v":2.6},{"x":0.75,"y":21.12,"v":2.4},{"x":0.8,"y":21.12,"v":2.3},{"x":0.85,"y":21.12,"v":2.1},{"x":0.9,"y":21.12,"v":2.1},{"x":0.95,"y":21.12,"v":2},{"x":1,"y":21.12,"v":2},{"x":1.05,"y":21.12,"v":2.1},{"x":1.1,"y":21.12,"v":2.1},{"x":1.15,"y":21.12,"v":2.1},
{"x":0.2,"y":21.28,"v":1.1},{"x":0.25,"y":21.28,"v":1.4},{"x":0.3,"y":21.28,"v":2.1},{"x":0.35,"y":21.28,"v":2.3},{"x":0.4,"y":21.28,"v":2.6},{"x":0.45,"y":21.28,"v":2.8},{"x":0.5,"y":21.28,"v":2.8},{"x":0.55,"y":21.28,"v":2.8},{"x":0.6,"y":21.28,"v":2.8},{"x":0.65,"y":21.28,"v":2.7},{"x":0.7,"y":21.28,"v":2.7},{"x":0.75,"y":21.28,"v":2.6},{"x":0.8,"y":21.28,"v":2.4},{"x":0.85,"y":21.28,"v":2.3},{"x":0.9,"y":21.28,"v":2.3},{"x":0.95,"y":21.28,"v":2.3},{"x":1,"y":21.28,"v":2.3},{"x":1.05,"y":21.28,"v":2.5},{"x":1.1,"y":21.28,"v":2.5},{"x":1.15,"y":21.28,"v":2.5},
{"x":0.2,"y":21.44,"v":1.1},{"x":0.25,"y":21.44,"v":1.5},{"x":0.3,"y":21.44,"v":1.9},{"x":0.35,"y":21.44,"v":2.3},{"x":0.4,"y":21.44,"v":2.6},{"x":0.45,"y":21.44,"v":2.8},{"x":0.5,"y":21.44,"v":3},{"x":0.55,"y":21.44,"v":3},{"x":0.6,"y":21.44,"v":3},{"x":0.65,"y":21.44,"v":3},{"x":0.7,"y":21.44,"v":2.9},{"x":0.75,"y":21.44,"v":2.8},{"x":0.8,"y":21.44,"v":2.7},{"x":0.85,"y":21.44,"v":2.9},{"x":0.9,"y":21.44,"v":3},{"x":0.95,"y":21.44,"v":3},{"x":1,"y":21.44,"v":3},{"x":1.05,"y":21.44,"v":3},{"x":1.1,"y":21.44,"v":3},{"x":1.15,"y":21.44,"v":2.9},
{"x":0.2,"y":21.6,"v":1.1},{"x":0.25,"y":21.6,"v":1.4},{"x":0.3,"y":21.6,"v":1.8},{"x":0.35,"y":21.6,"v":2.1},{"x":0.4,"y":21.6,"v":2.4},{"x":0.45,"y":21.6,"v":2.6},{"x":0.5,"y":21.6,"v":2.8},{"x":0.55,"y":21.6,"v":3},{"x":0.6,"y":21.6,"v":3.3},{"x":0.65,"y":21.6,"v":3.3},{"x":0.7,"y":21.6,"v":3.2},{"x":0.75,"y":21.6,"v":3.2},{"x":0.8,"y":21.6,"v":3.2},{"x":0.85,"y":21.6,"v":3.2},{"x":0.9,"y":21.6,"v":3.2},{"x":0.95,"y":21.6,"v":3.2},{"x":1,"y":21.6,"v":3.3},{"x":1.05,"y":21.6,"v":3.3},{"x":1.1,"y":21.6,"v":3.5},{"x":1.15,"y":21.6,"v":3.6},
{"x":0.2,"y":21.76,"v":1.1},{"x":0.25,"y":21.76,"v":1.3},{"x":0.3,"y":21.76,"v":1.7},{"x":0.35,"y":21.76,"v":1.9},{"x":0.4,"y":21.76,"v":2.2},{"x":0.45,"y":21.76,"v":2.3},{"x":0.5,"y":21.76,"v":2.5},{"x":0.55,"y":21.76,"v":2.8},{"x":0.6,"y":21.76,"v":3.1},{"x":0.65,"y":21.76,"v":3.3},{"x":0.7,"y":21.76,"v":3.2},{"x":0.75,"y":21.76,"v":3.3},{"x":0.8,"y":21.76,"v":3.4},{"x":0.85,"y":21.76,"v":3.5},{"x":0.9,"y":21.76,"v":3.8},{"x":0.95,"y":21.76,"v":3.8},{"x":1,"y":21.76,"v":3.7},{"x":1.05,"y":21.76,"v":3.7},{"x":1.1,"y":21.76,"v":3.8},{"x":1.15,"y":21.76,"v":3.7},
{"x":0.2,"y":21.92,"v":1.1},{"x":0.25,"y":21.92,"v":1.3},{"x":0.3,"y":21.92,"v":1.7},{"x":0.35,"y":21.92,"v":1.9},{"x":0.4,"y":21.92,"v":2.1},{"x":0.45,"y":21.92,"v":2.2},{"x":0.5,"y":21.92,"v":2.4},{"x":0.55,"y":21.92,"v":2.7},{"x":0.6,"y":21.92,"v":2.9},{"x":0.65,"y":21.92,"v":3.1},{"x":0.7,"y":21.92,"v":3.1},{"x":0.75,"y":21.92,"v":3.2},{"x":0.8,"y":21.92,"v":3.4},{"x":0.85,"y":21.92,"v":3.6},{"x":0.9,"y":21.92,"v":4.1},{"x":0.95,"y":21.92,"v":4.1},{"x":1,"y":21.92,"v":4.2},{"x":1.05,"y":21.92,"v":4.3},{"x":1.1,"y":21.92,"v":4.3},{"x":1.15,"y":21.92,"v":4.3}
],
"c1":[
{"x":0.5,"y":13.92,"v":0.1},{"x":0.55,"y":13.92,"v":0.3},{"x":0.6,"y":13.92,"v":0.4},{"x":0.65,"y":13.92,"v":0.45},{"x":0.7,"y":13.92,"v":0.35},{"x":0.75,"y":13.92,"v":0.3},{"x":0.8,"y":13.92,"v":0.3},{"x":0.85,"y":13.92,"v":0.35},{"x":0.9,"y":13.92,"v":0.4},{"x":0.95,"y":13.92,"v":0.35},{"x":1,"y":13.92,"v":0.2},{"x":1.05,"y":13.92,"v":0.2},{"x":1.1,"y":13.92,"v":0.15},{"x":1.15,"y":13.92,"v":0.15},
{"x":0.5,"y":14.24,"v":0.1},{"x":0.55,"y":14.24,"v":0.35},{"x":0.6,"y":14.24,"v":0.4},{"x":0.65,"y":14.24,"v":0.5},{"x":0.7,"y":14.24,"v":0.3},{"x":0.75,"y":14.24,"v":0.45},{"x":0.8,"y":14.24,"v":0.35},{"x":0.85,"y":14.24,"v":0.4},{"x":0.9,"y":14.24,"v":0.35},{"x":0.95,"y":14.24,"v":0.3},{"x":1,"y":14.24,"v":0.2},{"x":1.05,"y":14.24,"v":0.15},{"x":1.1,"y":14.24,"v":0.15},{"x":1.15,"y":14.24,"v":0.1},
{"x":0.5,"y":14.56,"v":0.1},{"x":0.55,"y":14.56,"v":0.4},{"x":0.6,"y":14.56,"v":0.4},{"x":0.65,"y":14.56,"v":0.45},{"x":0.7,"y":14.56,"v":0.3},{"x":0.75,"y":14.56,"v":0.3},{"x":0.8,"y":14.56,"v":0.4},{"x":0.85,"y":14.56,"v":0.35},{"x":0.9,"y":14.56,"v":0.3},{"x":0.95,"y":14.56,"v":0.25},{"x":1,"y":14.56,"v":0.2},{"x":1.05,"y":14.56,"v":0.2},{"x":1.1,"y":14.56,"v":0.15},{"x":1.15,"y":14.56,"v":0.15},
{"x":0.5,"y":14.88,"v":0.2},{"x":0.55,"y":14.88,"v":0.5},{"x":0.6,"y":14.88,"v":0.35},{"x":0.65,"y":14.88,"v":0.45},{"x":0.7,"y":14.88,"v":0.35},{"x":0.75,"y":14.88,"v":0.3},{"x":0.8,"y":14.88,"v":0.3},{"x":0.85,"y":14.88,"v":0.35},{"x":0.9,"y":14.88,"v":0.4},{"x":0.95,"y":14.88,"v":0.25},{"x":1,"y":14.88,"v":0.25},{"x":1.05,"y":14.88,"v":0.2},{"x":1.1,"y":14.88,"v":0.2},{"x":1.15,"y":14.88,"v":0.15},
{"x":0.5,"y":15.2,"v":0.2},{"x":0.55,"y":15.2,"v":0.55},{"x":0.6,"y":15.2,"v":0.35},{"x":0.65,"y":15.2,"v":0.4},{"x":0.7,"y":15.2,"v":0.3},{"x":0.75,"y":15.2,"v":0.3},{"x":0.8,"y":15.2,"v":0.3},{"x":0.85,"y":15.2,"v":0.25},{"x":0.9,"y":15.2,"v":0.3},{"x":0.95,"y":15.2,"v":0.2},{"x":1,"y":15.2,"v":0.15},{"x":1.05,"y":15.2,"v":0.2},{"x":1.1,"y":15.2,"v":0.1},{"x":1.15,"y":15.2,"v":0.2},
{"x":0.5,"y":15.52,"v":0.2},{"x":0.55,"y":15.52,"v":0.5},{"x":0.6,"y":15.52,"v":0.35},{"x":0.65,"y":15.52,"v":0.35},{"x":0.7,"y":15.52,"v":0.2},{"x":0.75,"y":15.52,"v":0.25},{"x":0.8,"y":15.52,"v":0.3},{"x":0.85,"y":15.52,"v":0.3},{"x":0.9,"y":15.52,"v":0.2},{"x":0.95,"y":15.52,"v":0.15},{"x":1,"y":15.52,"v":0.2},{"x":1.05,"y":15.52,"v":0.15},{"x":1.1,"y":15.52,"v":0.2},{"x":1.15,"y":15.52,"v":0.1},
{"x":0.5,"y":15.84,"v":0.2},{"x":0.55,"y":15.84,"v":0.55},{"x":0.6,"y":15.84,"v":0.4},{"x":0.65,"y":15.84,"v":0.4},{"x":0.7,"y":15.84,"v":0.25},{"x":0.75,"y":15.84,"v":0.2},{"x":0.8,"y":15.84,"v":0.3},{"x":0.85,"y":15.84,"v":0.15},{"x":0.9,"y":15.84,"v":0.3},{"x":0.95,"y":15.84,"v":0.2},{"x":1,"y":15.84,"v":0.15},{"x":1.05,"y":15.84,"v":0.25},{"x":1.1,"y":15.84,"v":0.15},{"x":1.15,"y":15.84,"v":0.15},
{"x":0.5,"y":16.16,"v":0.2},{"x":0.55,"y":16.16,"v":0.5},{"x":0.6,"y":16.16,"v":0.45},{"x":0.65,"y":16.16,"v":0.4},{"x":0.7,"y":16.16,"v":0.3},{"x":0.75,"y":16.16,"v":0.25},{"x":0.8,"y":16.16,"v":0.3},{"x":0.85,"y":16.16,"v":0.3},{"x":0.9,"y":16.16,"v":0.25},{"x":0.95,"y":16.16,"v":0.2},{"x":1,"y":16.16,"v":0.3},{"x":1.05,"y":16.16,"v":0.15},{"x":1.1,"y":16.16,"v":0.15},{"x":1.15,"y":16.16,"v":0.1},
{"x":0.5,"y":16.48,"v":0.2},{"x":0.55,"y":16.48,"v":0.45},{"x":0.6,"y":16.48,"v":0.45},{"x":0.65,"y":16.48,"v":0.35},{"x":0.7,"y":16.48,"v":0.35},{"x":0.75,"y":16.48,"v":0.3},{"x":0.8,"y":16.48,"v":0.3},{"x":0.85,"y":16.48,"v":0.3},{"x":0.9,"y":16.48,"v":0.3},{"x":0.95,"y":16.48,"v":0.25},{"x":1,"y":16.48,"v":0.2},{"x":1.05,"y":16.48,"v":0.2},{"x":1.1,"y":16.48,"v":0.2},{"x":1.15,"y":16.48,"v":0.15},
{"x":0.5,"y":16.8,"v":0.25},{"x":0.55,"y":16.8,"v":0.4},{"x":0.6,"y":16.8,"v":0.3},{"x":0.65,"y":16.8,"v":0.35},{"x":0.7,"y":16.8,"v":0.35},{"x":0.75,"y":16.8,"v":0.4},{"x":0.8,"y":16.8,"v":0.35},{"x":0.85,"y":16.8,"v":0.35},{"x":0.9,"y":16.8,"v":0.3},{"x":0.95,"y":16.8,"v":0.25},{"x":1,"y":16.8,"v":0.1},{"x":1.05,"y":16.8,"v":0.15},{"x":1.1,"y":16.8,"v":0.15},{"x":1.15,"y":16.8,"v":0.15},
{"x":0.5,"y":17.12,"v":0.3},{"x":0.55,"y":17.12,"v":0.3},{"x":0.6,"y":17.12,"v":0.25},{"x":0.65,"y":17.12,"v":0.3},{"x":0.7,"y":17.12,"v":0.35},{"x":0.75,"y":17.12,"v":0.4},{"x":0.8,"y":17.12,"v":0.45},{"x":0.85,"y":17.12,"v":0.4},{"x":0.9,"y":17.12,"v":0.45},{"x":0.95,"y":17.12,"v":0.35},{"x":1,"y":17.12,"v":0.2},{"x":1.05,"y":17.12,"v":0.15},{"x":1.1,"y":17.12,"v":0.2},{"x":1.15,"y":17.12,"v":0.15},
{"x":0.5,"y":17.44,"v":0.35},{"x":0.55,"y":17.44,"v":0.2},{"x":0.6,"y":17.44,"v":0.2},{"x":0.65,"y":17.44,"v":0.3},{"x":0.7,"y":17.44,"v":0.4},{"x":0.75,"y":17.44,"v":0.5},{"x":0.8,"y":17.44,"v":0.5},{"x":0.85,"y":17.44,"v":0.55},{"x":0.9,"y":17.44,"v":0.4},{"x":0.95,"y":17.44,"v":0.35},{"x":1,"y":17.44,"v":0.25},{"x":1.05,"y":17.44,"v":0.25},{"x":1.1,"y":17.44,"v":0.2},{"x":1.15,"y":17.44,"v":0.15},
{"x":0.5,"y":17.76,"v":0.1},{"x":0.55,"y":17.76,"v":0.1},{"x":0.6,"y":17.76,"v":0.15},{"x":0.65,"y":17.76,"v":0.3},{"x":0.7,"y":17.76,"v":0.45},{"x":0.75,"y":17.76,"v":0.6},{"x":0.8,"y":17.76,"v":0.5},{"x":0.85,"y":17.76,"v":0.45},{"x":0.9,"y":17.76,"v":0.4},{"x":0.95,"y":17.76,"v":0.3},{"x":1,"y":17.76,"v":0.3},{"x":1.05,"y":17.76,"v":0.25},{"x":1.1,"y":17.76,"v":0.15},{"x":1.15,"y":17.76,"v":0.15},
{"x":0.55,"y":18.08,"v":0.1},{"x":0.6,"y":18.08,"v":0.1},{"x":0.65,"y":18.08,"v":0.2},{"x":0.7,"y":18.08,"v":0.4},{"x":0.75,"y":18.08,"v":0.55},{"x":0.8,"y":18.08,"v":0.5},{"x":0.85,"y":18.08,"v":0.55},{"x":0.9,"y":18.08,"v":0.45},{"x":0.95,"y":18.08,"v":0.3},{"x":1,"y":18.08,"v":0.3},{"x":1.05,"y":18.08,"v":0.2},{"x":1.1,"y":18.08,"v":0.2},{"x":1.15,"y":18.08,"v":0.1},
{"x":0.6,"y":18.4,"v":0.05},{"x":0.65,"y":18.4,"v":0.15},{"x":0.7,"y":18.4,"v":0.4},{"x":0.75,"y":18.4,"v":0.55},{"x":0.8,"y":18.4,"v":0.6},{"x":0.85,"y":18.4,"v":0.45},{"x":0.9,"y":18.4,"v":0.25},{"x":0.95,"y":18.4,"v":0.2},{"x":1,"y":18.4,"v":0.25},{"x":1.05,"y":18.4,"v":0.15},{"x":1.1,"y":18.4,"v":0.1},{"x":1.15,"y":18.4,"v":0.1},
{"x":0.6,"y":18.72,"v":0.05},{"x":0.65,"y":18.72,"v":0.2},{"x":0.7,"y":18.72,"v":0.35},{"x":0.75,"y":18.72,"v":0.45},{"x":0.8,"y":18.72,"v":0.55},{"x":0.85,"y":18.72,"v":0.3},{"x":0.9,"y":18.72,"v":0.2},{"x":0.95,"y":18.72,"v":0.15},{"x":1,"y":18.72,"v":0.15},{"x":1.05,"y":18.72,"v":0.15},{"x":1.1,"y":18.72,"v":0.25},{"x":1.15,"y":18.72,"v":0.15}
],
"c2":[
{"x":0.35,"y":19.04,"v":0.1},{"x":0.4,"y":19.04,"v":0.2},{"x":0.45,"y":19.04,"v":0.1},{"x":0.6,"y":19.04,"v":0.1},{"x":0.65,"y":19.04,"v":0.2},{"x":0.7,"y":19.04,"v":0.3},{"x":0.75,"y":19.04,"v":0.5},{"x":0.8,"y":19.04,"v":0.45},{"x":0.85,"y":19.04,"v":0.2},{"x":0.9,"y":19.04,"v":0.1},
{"x":0.35,"y":19.2,"v":0.3},{"x":0.4,"y":19.2,"v":0.3},{"x":0.45,"y":19.2,"v":0.1},{"x":0.65,"y":19.2,"v":0.2},{"x":0.7,"y":19.2,"v":0.4},{"x":0.75,"y":19.2,"v":0.4},{"x":0.8,"y":19.2,"v":0.3},{"x":0.85,"y":19.2,"v":0.15},
{"x":0.35,"y":19.36,"v":0.5},{"x":0.4,"y":19.36,"v":0.5},{"x":0.45,"y":19.36,"v":0.2},{"x":0.55,"y":19.36,"v":0.1},{"x":0.6,"y":19.36,"v":0.1},{"x":0.65,"y":19.36,"v":0.25},{"x":0.7,"y":19.36,"v":0.4},{"x":0.75,"y":19.36,"v":0.35},{"x":0.8,"y":19.36,"v":0.15},
{"x":0.35,"y":19.52,"v":0.9},{"x":0.4,"y":19.52,"v":0.8},{"x":0.45,"y":19.52,"v":0.7},{"x":0.5,"y":19.52,"v":0.2},{"x":0.55,"y":19.52,"v":0.2},{"x":0.6,"y":19.52,"v":0.1},{"x":0.65,"y":19.52,"v":0.25},{"x":0.7,"y":19.52,"v":0.35},{"x":0.75,"y":19.52,"v":0.2},{"x":0.8,"y":19.52,"v":0.1},
{"x":0.35,"y":19.68,"v":1.1},{"x":0.4,"y":19.68,"v":1.1},{"x":0.45,"y":19.68,"v":1},{"x":0.5,"y":19.68,"v":0.5},{"x":0.55,"y":19.68,"v":0.2},{"x":0.6,"y":19.68,"v":0.15},{"x":0.65,"y":19.68,"v":0.25},{"x":0.7,"y":19.68,"v":0.3},{"x":0.75,"y":19.68,"v":0.2},{"x":0.8,"y":19.68,"v":0.15},
{"x":0.3,"y":19.84,"v":0.6},{"x":0.35,"y":19.84,"v":1.2},{"x":0.4,"y":19.84,"v":1.6},{"x":0.45,"y":19.84,"v":1.2},{"x":0.5,"y":19.84,"v":0.7},{"x":0.55,"y":19.84,"v":0.3},{"x":0.6,"y":19.84,"v":0.2},{"x":0.65,"y":19.84,"v":0.2},{"x":0.7,"y":19.84,"v":0.25},{"x":0.75,"y":19.84,"v":0.15},
{"x":0.3,"y":20,"v":0.9},{"x":0.35,"y":20,"v":1.9},{"x":0.4,"y":20,"v":2.3},{"x":0.45,"y":20,"v":1.5},{"x":0.5,"y":20,"v":0.8},{"x":0.55,"y":20,"v":0.3},{"x":0.6,"y":20,"v":0.15},{"x":0.65,"y":20,"v":0.15},{"x":0.7,"y":20,"v":0.1},
{"x":0.25,"y":20.16,"v":0.3},{"x":0.3,"y":20.16,"v":1.3},{"x":0.35,"y":20.16,"v":2.6},{"x":0.4,"y":20.16,"v":2.8},{"x":0.45,"y":20.16,"v":1.7},{"x":0.5,"y":20.16,"v":0.9},{"x":0.55,"y":20.16,"v":0.4},{"x":0.6,"y":20.16,"v":0.1},{"x":0.65,"y":20.16,"v":0.15},
{"x":0.2,"y":20.32,"v":0.2},{"x":0.25,"y":20.32,"v":0.9},{"x":0.3,"y":20.32,"v":2},{"x":0.35,"y":20.32,"v":3},{"x":0.4,"y":20.32,"v":3.1},{"x":0.45,"y":20.32,"v":2},{"x":0.5,"y":20.32,"v":1},{"x":0.55,"y":20.32,"v":0.5},{"x":0.6,"y":20.32,"v":0.15},{"x":0.65,"y":20.32,"v":0.2},{"x":0.7,"y":20.32,"v":0.1},
{"x":0.1,"y":20.48,"v":0.1},{"x":0.15,"y":20.48,"v":0.3},{"x":0.2,"y":20.48,"v":0.8},{"x":0.25,"y":20.48,"v":1.6},{"x":0.3,"y":20.48,"v":2.8},{"x":0.35,"y":20.48,"v":3.3},{"x":0.4,"y":20.48,"v":3.2},{"x":0.45,"y":20.48,"v":2.2},{"x":0.5,"y":20.48,"v":1.2},{"x":0.55,"y":20.48,"v":0.7},{"x":0.6,"y":20.48,"v":0.25},{"x":0.65,"y":20.48,"v":0.3},{"x":0.7,"y":20.48,"v":0.1},
{"x":0.1,"y":20.64,"v":0.1},{"x":0.15,"y":20.64,"v":0.3},{"x":0.2,"y":20.64,"v":0.9},{"x":0.25,"y":20.64,"v":1.9},{"x":0.3,"y":20.64,"v":3},{"x":0.35,"y":20.64,"v":3.95},{"x":0.4,"y":20.64,"v":3.1},{"x":0.45,"y":20.64,"v":2.2},{"x":0.5,"y":20.64,"v":1.2},{"x":0.55,"y":20.64,"v":0.8},{"x":0.6,"y":20.64,"v":0.3},{"x":0.65,"y":20.64,"v":0.4},{"x":0.7,"y":20.64,"v":0.3},
{"x":0.1,"y":20.8,"v":0.1},{"x":0.15,"y":20.8,"v":0.4},{"x":0.2,"y":20.8,"v":1},{"x":0.25,"y":20.8,"v":2},{"x":0.3,"y":20.8,"v":3},{"x":0.35,"y":20.8,"v":3.5},{"x":0.4,"y":20.8,"v":3.3},{"x":0.45,"y":20.8,"v":2.6},{"x":0.5,"y":20.8,"v":1.8},{"x":0.55,"y":20.8,"v":1.2},{"x":0.6,"y":20.8,"v":0.5},{"x":0.65,"y":20.8,"v":0.5},{"x":0.7,"y":20.8,"v":0.3},{"x":0.75,"y":20.8,"v":0.1},
{"x":0.1,"y":20.96,"v":0.2},{"x":0.15,"y":20.96,"v":0.5},{"x":0.2,"y":20.96,"v":1.2},{"x":0.25,"y":20.96,"v":2},{"x":0.3,"y":20.96,"v":3.1},{"x":0.35,"y":20.96,"v":3.65},{"x":0.4,"y":20.96,"v":3.2},{"x":0.45,"y":20.96,"v":2.8},{"x":0.5,"y":20.96,"v":2},{"x":0.55,"y":20.96,"v":1.4},{"x":0.6,"y":20.96,"v":0.9},{"x":0.65,"y":20.96,"v":0.7},{"x":0.7,"y":20.96,"v":0.4},{"x":0.75,"y":20.96,"v":0.2},
{"x":0.1,"y":21.12,"v":0.2},{"x":0.15,"y":21.12,"v":0.7},{"x":0.2,"y":21.12,"v":1.3},{"x":0.25,"y":21.12,"v":2},{"x":0.3,"y":21.12,"v":2.8},{"x":0.35,"y":21.12,"v":3.1},{"x":0.4,"y":21.12,"v":3},{"x":0.45,"y":21.12,"v":2.8},{"x":0.5,"y":21.12,"v":2.4},{"x":0.55,"y":21.12,"v":2},{"x":0.6,"y":21.12,"v":1.3},{"x":0.65,"y":21.12,"v":1},{"x":0.7,"y":21.12,"v":0.7},{"x":0.75,"y":21.12,"v":0.4},{"x":0.8,"y":21.12,"v":0.2},
{"x":0.05,"y":21.28,"v":0.05},{"x":0.1,"y":21.28,"v":0.3},{"x":0.15,"y":21.28,"v":0.8},{"x":0.2,"y":21.28,"v":1.3},{"x":0.25,"y":21.28,"v":1.8},{"x":0.3,"y":21.28,"v":2.4},{"x":0.35,"y":21.28,"v":2.6},{"x":0.4,"y":21.28,"v":2.7},{"x":0.45,"y":21.28,"v":2.8},{"x":0.5,"y":21.28,"v":2.7},{"x":0.55,"y":21.28,"v":2.4},{"x":0.6,"y":21.28,"v":1.9},{"x":0.65,"y":21.28,"v":1.2},{"x":0.7,"y":21.28,"v":0.9},{"x":0.75,"y":21.28,"v":0.5},{"x":0.8,"y":21.28,"v":0.2},
{"x":0.05,"y":21.44,"v":0.1},{"x":0.1,"y":21.44,"v":0.2},{"x":0.15,"y":21.44,"v":0.6},{"x":0.2,"y":21.44,"v":0.9},{"x":0.25,"y":21.44,"v":1.2},{"x":0.3,"y":21.44,"v":1.7},{"x":0.35,"y":21.44,"v":2.2},{"x":0.4,"y":21.44,"v":2.6},{"x":0.45,"y":21.44,"v":2.6},{"x":0.5,"y":21.44,"v":2.5},{"x":0.55,"y":21.44,"v":2.2},{"x":0.6,"y":21.44,"v":1.5},{"x":0.65,"y":21.44,"v":1.2},{"x":0.7,"y":21.44,"v":0.7},{"x":0.75,"y":21.44,"v":0.4},
{"x":0,"y":21.6,"v":0.1},{"x":0.05,"y":21.6,"v":0.15},{"x":0.1,"y":21.6,"v":0.2},{"x":0.15,"y":21.6,"v":0.4},{"x":0.2,"y":21.6,"v":0.7},{"x":0.25,"y":21.6,"v":1},{"x":0.3,"y":21.6,"v":1.3},{"x":0.35,"y":21.6,"v":1.4},{"x":0.4,"y":21.6,"v":1.5},{"x":0.45,"y":21.6,"v":1.5},{"x":0.5,"y":21.6,"v":1.4},{"x":0.55,"y":21.6,"v":1.2},{"x":0.6,"y":21.6,"v":1},{"x":0.65,"y":21.6,"v":0.7},{"x":0.7,"y":21.6,"v":0.3},
{"x":0.05,"y":21.76,"v":0.05},{"x":0.1,"y":21.76,"v":0.1},{"x":0.15,"y":21.76,"v":0.2},{"x":0.2,"y":21.76,"v":0.4},{"x":0.25,"y":21.76,"v":0.7},{"x":0.3,"y":21.76,"v":0.6},{"x":0.35,"y":21.76,"v":0.6},{"x":0.4,"y":21.76,"v":0.6},{"x":0.45,"y":21.76,"v":0.5},{"x":0.5,"y":21.76,"v":0.4},{"x":0.55,"y":21.76,"v":0.3},{"x":0.6,"y":21.76,"v":0.2},{"x":0.65,"y":21.76,"v":0.1},
{"x":0.1,"y":21.92,"v":0.1},{"x":0.15,"y":21.92,"v":0.15},{"x":0.2,"y":21.92,"v":0.3},{"x":0.25,"y":21.92,"v":0.5},{"x":0.3,"y":21.92,"v":0.5},{"x":0.35,"y":21.92,"v":0.5},{"x":0.4,"y":21.92,"v":0.4},{"x":0.45,"y":21.92,"v":0.4},{"x":0.5,"y":21.92,"v":0.3},{"x":0.55,"y":21.92,"v":0.2},{"x":0.6,"y":21.92,"v":0.1}
],
"d":[{"x":0.52},{"x":0.6}]},
"spacing":29.7,"resolve":{"scale":{"color":"independent"}},"hconcat":[
{"title":"On-field (VST ATLAS)","width":179,"height":348,"view":{"fill":"#fcfabb"},"resolve":{"axis":{"x":"independent","y":"independent"}},"layer":[
{"data":{"name":"a1"},"mark":{"type":"rect","width":6.7,"height":14.2,"xOffset":3.2,"yOffset":6.96,"clip":true},"encoding":{"x":{"field":"x","type":"quantitative","scale":{"domain":[-0.2,1.2],"nice":false},"axis":{"orient":"bottom","values":[-0.2,0,0.2,0.4,0.6,0.8,1,1.2],"format":".1f","tickSize":-4,"labelPadding":6,"title":"g-i [mag]","titlePadding":2}},"y":{"field":"y","type":"quantitative","scale":{"domain":[22,14],"nice":false},"axis":{"orient":"left","values":[14,15,16,17,18,19,20,21,22],"tickSize":-4,"labelPadding":7,"title":"i [mag]","titlePadding":1.5}},"color":{"field":"v","type":"quantitative","scale":{"scheme":"magma","reverse":true,"domain":[0,10]},"legend":{"values":[0,1,2,3,4,5,6,7,8,9,10],"encoding":{"labels":{"baseline":{"value":"middle"}}}}}}},
{"data":{"name":"a2"},"mark":{"type":"rect","width":6.7,"height":7.2,"xOffset":3.2,"yOffset":3.48,"clip":true},"encoding":{"x":{"field":"x","type":"quantitative","axis":null},"y":{"field":"y","type":"quantitative","axis":null},"color":{"field":"v","type":"quantitative"}}},
{"data":{"name":"frame"},"mark":{"type":"point","opacity":0},"encoding":{"x":{"field":"x","type":"quantitative","axis":{"orient":"top","values":[-0.2,0,0.2,0.4,0.6,0.8,1,1.2],"labels":false,"tickSize":-4,"title":null}},"y":{"field":"y","type":"quantitative","axis":{"orient":"right","values":[14,15,16,17,18,19,20,21,22],"labels":false,"tickSize":-4,"title":null}}}},
{"data":{"name":"frame"},"mark":{"type":"point","opacity":0},"encoding":{"x":{"field":"x","type":"quantitative","axis":{"orient":"bottom","domain":false,"values":[-0.1,0.1,0.3,0.5,0.7,0.9,1.1],"labels":false,"tickSize":-2,"title":null}},"y":{"field":"y","type":"quantitative","axis":{"orient":"left","domain":false,"values":[14.25,14.5,14.75,15.25,15.5,15.75,16.25,16.5,16.75,17.25,17.5,17.75,18.25,18.5,18.75,19.25,19.5,19.75,20.25,20.5,20.75,21.25,21.5,21.75],"labels":false,"tickSize":-2,"title":null}}}},
{"data":{"name":"frame"},"mark":{"type":"point","opacity":0},"encoding":{"x":{"field":"x","type":"quantitative","axis":{"orient":"top","domain":false,"values":[-0.1,0.1,0.3,0.5,0.7,0.9,1.1],"labels":false,"tickSize":-2,"title":null}},"y":{"field":"y","type":"quantitative","axis":{"orient":"right","domain":false,"values":[14.25,14.5,14.75,15.25,15.5,15.75,16.25,16.5,16.75,17.25,17.5,17.75,18.25,18.5,18.75,19.25,19.5,19.75,20.25,20.5,20.75,21.25,21.5,21.75],"labels":false,"tickSize":-2,"title":null}}}}]},
{"title":"Off-field (SDSS DR9)","width":179,"height":348,"view":{"fill":"#fcfabb"},"resolve":{"axis":{"x":"independent","y":"independent"}},"layer":[
{"data":{"name":"b1"},"mark":{"type":"rect","width":6.7,"height":14.2,"xOffset":3.2,"yOffset":6.96,"clip":true},"encoding":{"x":{"field":"x","type":"quantitative","scale":{"domain":[-0.2,1.2],"nice":false},"axis":{"orient":"bottom","values":[-0.2,0,0.2,0.4,0.6,0.8,1,1.2],"format":".1f","tickSize":-4,"labelPadding":6,"title":"g-i [mag]","titlePadding":2}},"y":{"field":"y","type":"quantitative","scale":{"domain":[22,14],"nice":false},"axis":{"orient":"left","values":[14,15,16,17,18,19,20,21,22],"tickSize":-4,"labelPadding":7,"title":"i [mag]","titlePadding":1.5}},"color":{"field":"v","type":"quantitative","scale":{"scheme":"magma","reverse":true,"domain":[0,10]},"legend":{"values":[0,1,2,3,4,5,6,7,8,9,10],"encoding":{"labels":{"baseline":{"value":"middle"}}}}}}},
{"data":{"name":"b2"},"mark":{"type":"rect","width":6.7,"height":7.2,"xOffset":3.2,"yOffset":3.48,"clip":true},"encoding":{"x":{"field":"x","type":"quantitative","axis":null},"y":{"field":"y","type":"quantitative","axis":null},"color":{"field":"v","type":"quantitative"}}},
{"data":{"name":"frame"},"mark":{"type":"point","opacity":0},"encoding":{"x":{"field":"x","type":"quantitative","axis":{"orient":"top","values":[-0.2,0,0.2,0.4,0.6,0.8,1,1.2],"labels":false,"tickSize":-4,"title":null}},"y":{"field":"y","type":"quantitative","axis":{"orient":"right","values":[14,15,16,17,18,19,20,21,22],"labels":false,"tickSize":-4,"title":null}}}},
{"data":{"name":"frame"},"mark":{"type":"point","opacity":0},"encoding":{"x":{"field":"x","type":"quantitative","axis":{"orient":"bottom","domain":false,"values":[-0.1,0.1,0.3,0.5,0.7,0.9,1.1],"labels":false,"tickSize":-2,"title":null}},"y":{"field":"y","type":"quantitative","axis":{"orient":"left","domain":false,"values":[14.25,14.5,14.75,15.25,15.5,15.75,16.25,16.5,16.75,17.25,17.5,17.75,18.25,18.5,18.75,19.25,19.5,19.75,20.25,20.5,20.75,21.25,21.5,21.75],"labels":false,"tickSize":-2,"title":null}}}},
{"data":{"name":"frame"},"mark":{"type":"point","opacity":0},"encoding":{"x":{"field":"x","type":"quantitative","axis":{"orient":"top","domain":false,"values":[-0.1,0.1,0.3,0.5,0.7,0.9,1.1],"labels":false,"tickSize":-2,"title":null}},"y":{"field":"y","type":"quantitative","axis":{"orient":"right","domain":false,"values":[14.25,14.5,14.75,15.25,15.5,15.75,16.25,16.5,16.75,17.25,17.5,17.75,18.25,18.5,18.75,19.25,19.5,19.75,20.25,20.5,20.75,21.25,21.5,21.75],"labels":false,"tickSize":-2,"title":null}}}}]},
{"title":"Hess difference","width":179,"height":348,"view":{"fill":"#fcfdbf"},"resolve":{"axis":{"x":"independent","y":"independent"}},"layer":[
{"data":{"name":"c1"},"mark":{"type":"rect","width":6.7,"height":14.2,"xOffset":3.2,"yOffset":6.96,"clip":true},"encoding":{"x":{"field":"x","type":"quantitative","scale":{"domain":[-0.2,1.2],"nice":false},"axis":{"orient":"bottom","values":[-0.2,0,0.2,0.4,0.6,0.8,1,1.2],"format":".1f","tickSize":-4,"labelPadding":6,"title":"g-i [mag]","titlePadding":2}},"y":{"field":"y","type":"quantitative","scale":{"domain":[22,14],"nice":false},"axis":{"orient":"left","values":[14,15,16,17,18,19,20,21,22],"tickSize":-4,"labelPadding":7,"title":"i [mag]","titlePadding":1.5}},"color":{"field":"v","type":"quantitative","scale":{"scheme":"magma","reverse":true,"domain":[0,5]},"legend":{"values":[0,0.5,1,1.5,2,2.5,3,3.5,4,4.5,5],"format":".1f","encoding":{"labels":{"baseline":{"value":"middle"}}}}}}},
{"data":{"name":"c2"},"mark":{"type":"rect","width":6.7,"height":7.2,"xOffset":3.2,"yOffset":3.48,"clip":true},"encoding":{"x":{"field":"x","type":"quantitative","axis":null},"y":{"field":"y","type":"quantitative","axis":null},"color":{"field":"v","type":"quantitative"}}},
{"data":{"name":"d"},"mark":{"type":"rule","color":"#333","strokeDash":[5,3],"strokeWidth":1.2},"encoding":{"x":{"field":"x","type":"quantitative","axis":null}}},
{"data":{"name":"frame"},"mark":{"type":"point","opacity":0},"encoding":{"x":{"field":"x","type":"quantitative","axis":{"orient":"top","values":[-0.2,0,0.2,0.4,0.6,0.8,1,1.2],"labels":false,"tickSize":-4,"title":null}},"y":{"field":"y","type":"quantitative","axis":{"orient":"right","values":[14,15,16,17,18,19,20,21,22],"labels":false,"tickSize":-4,"title":null}}}},
{"data":{"name":"frame"},"mark":{"type":"point","opacity":0},"encoding":{"x":{"field":"x","type":"quantitative","axis":{"orient":"bottom","domain":false,"values":[-0.1,0.1,0.3,0.5,0.7,0.9,1.1],"labels":false,"tickSize":-2,"title":null}},"y":{"field":"y","type":"quantitative","axis":{"orient":"left","domain":false,"values":[14.25,14.5,14.75,15.25,15.5,15.75,16.25,16.5,16.75,17.25,17.5,17.75,18.25,18.5,18.75,19.25,19.5,19.75,20.25,20.5,20.75,21.25,21.5,21.75],"labels":false,"tickSize":-2,"title":null}}}},
{"data":{"name":"frame"},"mark":{"type":"point","opacity":0},"encoding":{"x":{"field":"x","type":"quantitative","axis":{"orient":"top","domain":false,"values":[-0.1,0.1,0.3,0.5,0.7,0.9,1.1],"labels":false,"tickSize":-2,"title":null}},"y":{"field":"y","type":"quantitative","axis":{"orient":"right","domain":false,"values":[14.25,14.5,14.75,15.25,15.5,15.75,16.25,16.5,16.75,17.25,17.5,17.75,18.25,18.5,18.75,19.25,19.5,19.75,20.25,20.5,20.75,21.25,21.5,21.75],"labels":false,"tickSize":-2,"title":null}}}}]}
]}
